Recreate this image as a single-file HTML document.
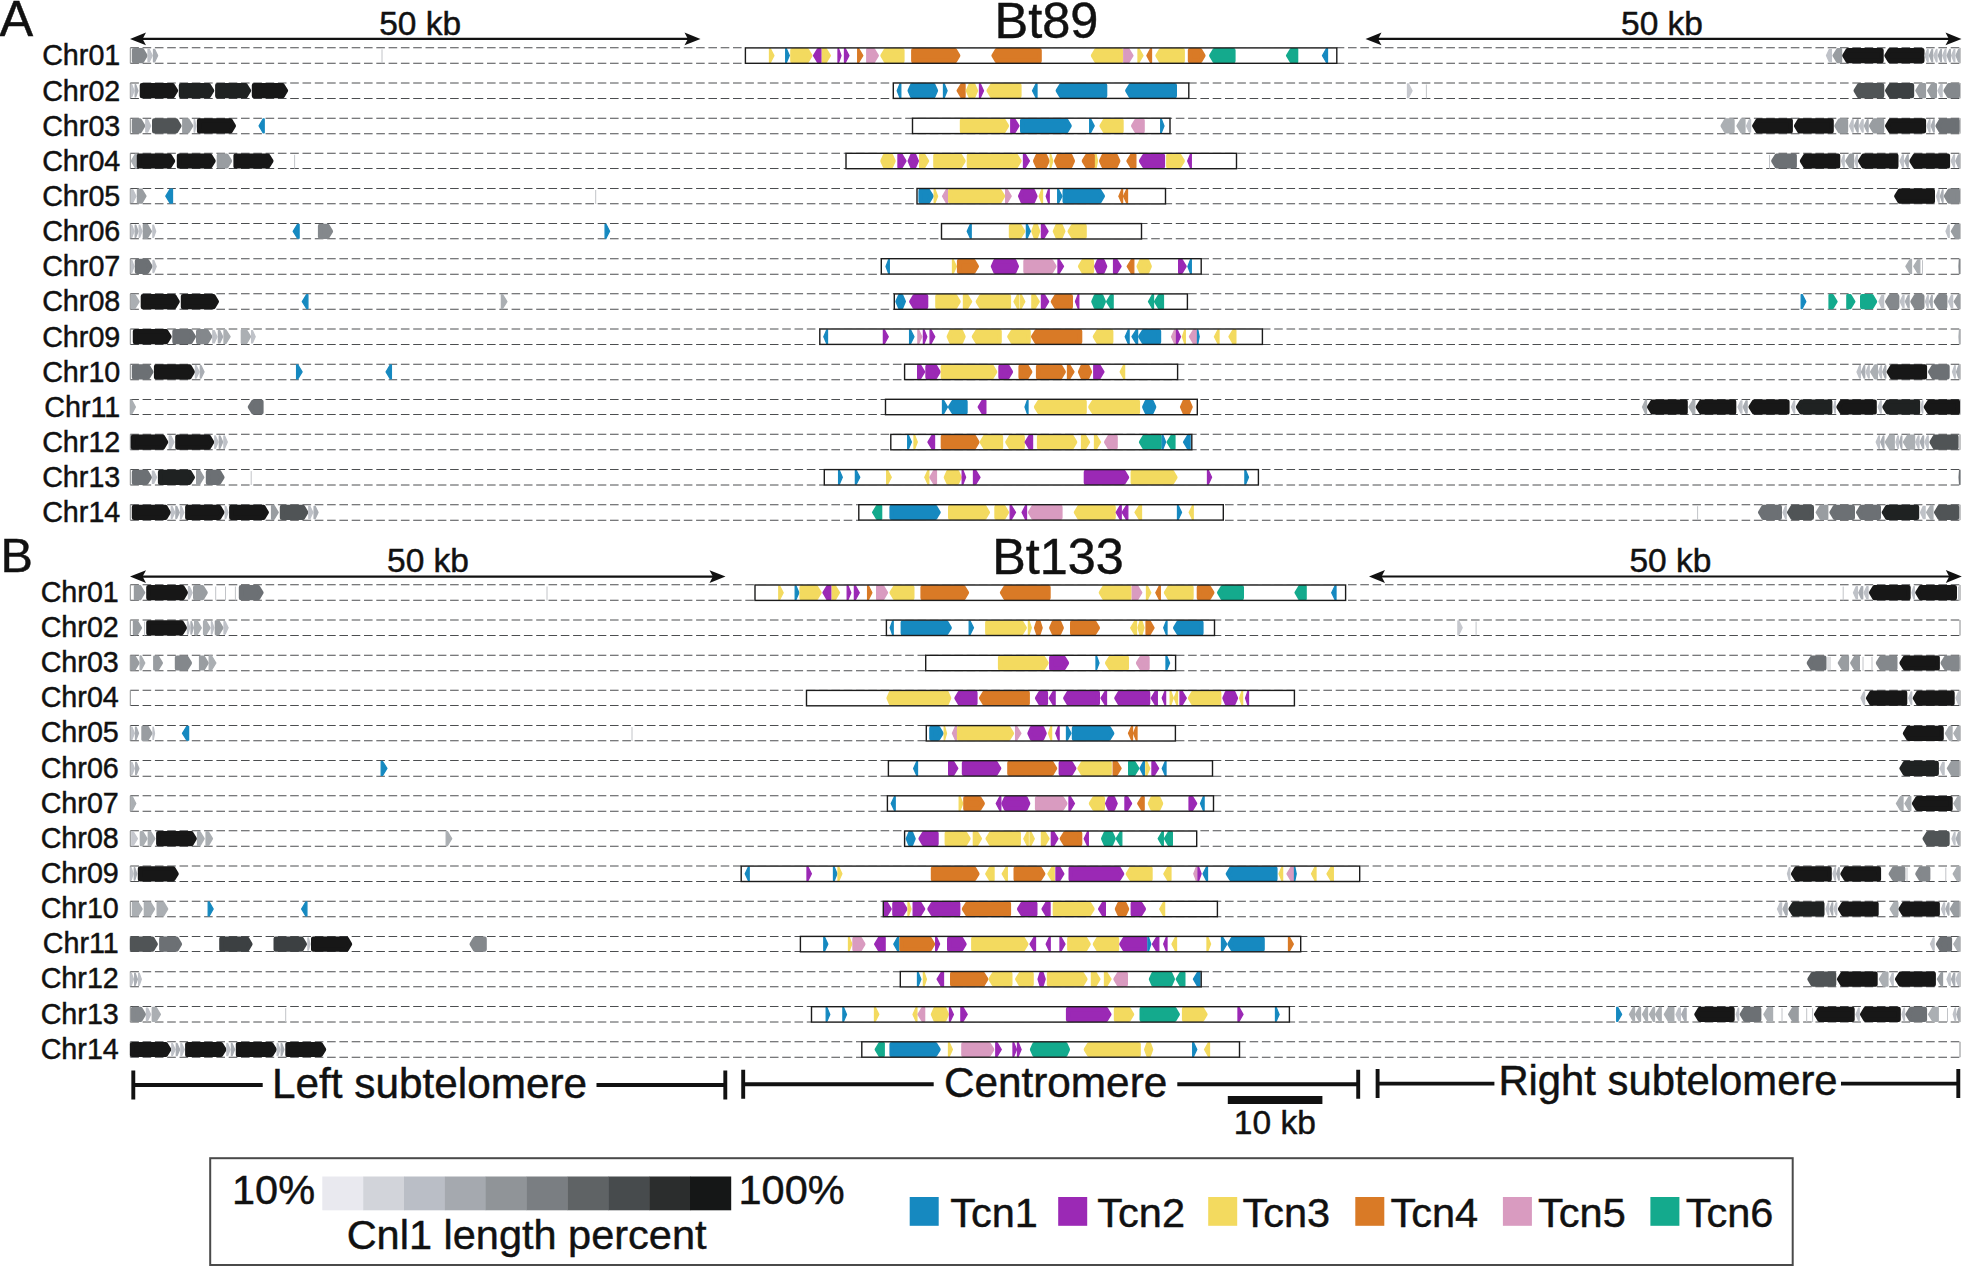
<!DOCTYPE html>
<html><head><meta charset="utf-8"><title>Bt89 / Bt133 centromeres</title>
<style>
html,body{margin:0;padding:0;background:#fff}
body{width:1962px;height:1267px;overflow:hidden}
svg{display:block}
text{font-family:"Liberation Sans",Arial,Helvetica,sans-serif;fill:#111;stroke:#111;stroke-width:0.45px}
.chr{font-size:28.7px}
path.d{stroke:#4c4e50;stroke-width:1;stroke-dasharray:8.6 3.7;fill:none}
polygon{stroke-width:1.3;stroke-linejoin:round}
polygon.m{stroke-width:2.6}
polygon.b{stroke-width:4.4}
</style></head><body>
<svg width="1962" height="1267" viewBox="0 0 1962 1267">
<rect width="1962" height="1267" fill="#fff"/>
<path class="d" d="M130.3 47.75H1960M130.3 63.25H1960"/>
<path d="M130.3 47.9V63.3M1960 47.9V63.3" stroke="#8a8c8e" stroke-width="1" fill="none"/>
<polygon class="b" fill="#84888c" stroke="#84888c" points="134,50.2 142.1,50.2 145.4,55.6 142.1,61 134,61"/><polygon fill="#bfc2c8" stroke="#bfc2c8" points="148,49.5 149.3,49.5 152.2,55.6 149.3,61.8 148,61.8"/><polygon fill="#a9adb3" stroke="#a9adb3" points="153.5,49.5 154.7,49.5 157.6,55.6 154.7,61.8 153.5,61.8"/><line x1="382" x2="382" y1="49.4" y2="63.3" stroke="#c2c4c8" stroke-width="1"/>
<polygon fill="#bfc2c8" stroke="#bfc2c8" points="1831.4,49.5 1829.3,49.5 1826.5,55.6 1829.3,61.8 1831.4,61.8"/><polygon class="m" fill="#999da1" stroke="#999da1" points="1840.9,49.3 1837.5,49.3 1833.7,55.6 1837.5,61.9 1840.9,61.9"/><polygon class="b" fill="#171717" stroke="#171717" points="1881.5,50.2 1847.7,50.2 1844.4,55.6 1847.7,61 1881.5,61"/><polygon class="b" fill="#171717" stroke="#171717" points="1922.3,50.2 1889.8,50.2 1886.5,55.6 1889.8,61 1922.3,61"/><polygon fill="#bfc2c8" stroke="#bfc2c8" points="1928.1,49.5 1927.5,49.5 1925,55.6 1927.5,61.8 1928.1,61.8"/><polygon fill="#a9adb3" stroke="#a9adb3" points="1932.6,49.5 1931.9,49.5 1929.4,55.6 1931.9,61.8 1932.6,61.8"/><polygon fill="#bfc2c8" stroke="#bfc2c8" points="1937,49.5 1936.4,49.5 1933.8,55.6 1936.4,61.8 1937,61.8"/><polygon fill="#a9adb3" stroke="#a9adb3" points="1941.4,49.5 1940.8,49.5 1938.3,55.6 1940.8,61.8 1941.4,61.8"/><polygon fill="#bfc2c8" stroke="#bfc2c8" points="1945.9,49.5 1945.2,49.5 1942.7,55.6 1945.2,61.8 1945.9,61.8"/><polygon fill="#a9adb3" stroke="#a9adb3" points="1950.3,49.5 1949.7,49.5 1947.1,55.6 1949.7,61.8 1950.3,61.8"/><polygon fill="#bfc2c8" stroke="#bfc2c8" points="1954.8,49.5 1954.1,49.5 1951.6,55.6 1954.1,61.8 1954.8,61.8"/><polygon fill="#a9adb3" stroke="#a9adb3" points="1959.2,49.5 1958.6,49.5 1956,55.6 1958.6,61.8 1959.2,61.8"/>
<rect x="745.4" y="47.1" width="591.4" height="17" fill="#fff" stroke="none"/>
<polygon fill="#f3da5f" stroke="#f3da5f" points="769.5,48.7 770.4,48.7 773.9,55.6 770.4,62.5 769.5,62.5"/><polygon fill="#1689c0" stroke="#1689c0" points="785.7,48.7 786.4,48.7 789.3,55.6 786.4,62.5 785.7,62.5"/><polygon class="b" fill="#f3da5f" stroke="#f3da5f" points="792.4,50.2 807,50.2 810.3,55.6 807,61 792.4,61"/><polygon class="m" fill="#9b29b5" stroke="#9b29b5" points="820.4,49.3 818,49.3 814.2,55.6 818,61.9 820.4,61.9"/><polygon class="m" fill="#f3da5f" stroke="#f3da5f" points="823,49.3 825.9,49.3 829.7,55.6 825.9,61.9 823,61.9"/><polygon fill="#9b29b5" stroke="#9b29b5" points="838,48.7 838.6,48.7 841,55.6 838.6,62.5 838,62.5"/><polygon fill="#9b29b5" stroke="#9b29b5" points="844.5,48.7 845.4,48.7 848.9,55.6 845.4,62.5 844.5,62.5"/><polygon fill="#d97a26" stroke="#d97a26" points="857.7,48.7 858.7,48.7 862.8,55.6 858.7,62.5 857.7,62.5"/><polygon class="m" fill="#d99bc0" stroke="#d99bc0" points="867.4,49.3 873.9,49.3 877.7,55.6 873.9,61.9 867.4,61.9"/><polygon class="b" fill="#f3da5f" stroke="#f3da5f" points="902.4,50.2 885.8,50.2 882.5,55.6 885.8,61 902.4,61"/><polygon class="b" fill="#d97a26" stroke="#d97a26" points="913.3,50.2 954.9,50.2 958.2,55.6 954.9,61 913.3,61"/><polygon class="b" fill="#d97a26" stroke="#d97a26" points="1039.6,50.2 996.9,50.2 993.6,55.6 996.9,61 1039.6,61"/><polygon class="b" fill="#f3da5f" stroke="#f3da5f" points="1120.9,50.2 1096.3,50.2 1093,55.6 1096.3,61 1120.9,61"/><polygon class="m" fill="#d99bc0" stroke="#d99bc0" points="1124.4,49.3 1128.5,49.3 1132.3,55.6 1128.5,61.9 1124.4,61.9"/><polygon fill="#f3da5f" stroke="#f3da5f" points="1138,48.7 1139,48.7 1143,55.6 1139,62.5 1138,62.5"/><polygon fill="#d97a26" stroke="#d97a26" points="1151.5,48.7 1150.5,48.7 1146.9,55.6 1150.5,62.5 1151.5,62.5"/><polygon class="b" fill="#f3da5f" stroke="#f3da5f" points="1182.7,50.2 1160.8,50.2 1157.5,55.6 1160.8,61 1182.7,61"/><polygon class="b" fill="#d97a26" stroke="#d97a26" points="1190,50.2 1200.1,50.2 1203.4,55.6 1200.1,61 1190,61"/><polygon class="b" fill="#14aa8d" stroke="#14aa8d" points="1233.4,50.2 1214.6,50.2 1211.3,55.6 1214.6,61 1233.4,61"/><polygon class="m" fill="#14aa8d" stroke="#14aa8d" points="1297,49.3 1291,49.3 1287.2,55.6 1291,61.9 1297,61.9"/><polygon fill="#1689c0" stroke="#1689c0" points="1327.5,48.7 1326.5,48.7 1322.5,55.6 1326.5,62.5 1327.5,62.5"/>
<rect x="745.4" y="47.9" width="591.4" height="15.4" fill="none" stroke="#1c1c1c" stroke-width="1.4"/>
<text class="chr" x="120.3" y="65.4" text-anchor="end">Chr01</text>
<path class="d" d="M130.3 83.00H1960M130.3 98.50H1960"/>
<path d="M130.3 83V98.4M1960 83V98.4" stroke="#8a8c8e" stroke-width="1" fill="none"/>
<polygon fill="#bfc2c8" stroke="#bfc2c8" points="131.2,84.6 131.8,84.6 134,90.7 131.8,96.9 131.2,96.9"/><polygon fill="#a9adb3" stroke="#a9adb3" points="135.2,84.6 135.7,84.6 137.9,90.7 135.7,96.9 135.2,96.9"/><polygon class="b" fill="#171717" stroke="#171717" points="141.9,85.3 172.7,85.3 176,90.7 172.7,96.1 141.9,96.1"/><polygon class="b" fill="#1f2222" stroke="#1f2222" points="181,85.3 208.8,85.3 212.1,90.7 208.8,96.1 181,96.1"/><polygon class="b" fill="#1f2222" stroke="#1f2222" points="217.3,85.3 245.7,85.3 249,90.7 245.7,96.1 217.3,96.1"/><polygon class="b" fill="#171717" stroke="#171717" points="254,85.3 282.6,85.3 285.9,90.7 282.6,96.1 254,96.1"/>
<polygon fill="#c6c8ce" stroke="#c6c8ce" points="1407.5,83.8 1408.4,83.8 1412.1,90.7 1408.4,97.7 1407.5,97.7"/><line x1="1426.4" x2="1426.4" y1="84.5" y2="98.4" stroke="#c2c4c8" stroke-width="1"/><polygon class="b" fill="#505456" stroke="#505456" points="1882.1,85.3 1859,85.3 1855.7,90.7 1859,96.1 1882.1,96.1"/><polygon class="b" fill="#3c4042" stroke="#3c4042" points="1912,85.3 1890.5,85.3 1887.2,90.7 1890.5,96.1 1912,96.1"/><polygon class="m" fill="#999da1" stroke="#999da1" points="1924.8,84.4 1920.3,84.4 1916.5,90.7 1920.3,97 1924.8,97"/><polygon class="m" fill="#999da1" stroke="#999da1" points="1935.7,84.4 1932.1,84.4 1928.3,90.7 1932.1,97 1935.7,97"/><polygon fill="#bfc2c8" stroke="#bfc2c8" points="1942.1,84.6 1940.8,84.6 1938,90.7 1940.8,96.9 1942.1,96.9"/><polygon class="b" fill="#84888c" stroke="#84888c" points="1957.8,85.3 1948.9,85.3 1945.6,90.7 1948.9,96.1 1957.8,96.1"/>
<rect x="893.3" y="82.2" width="295.5" height="17" fill="#fff" stroke="none"/>
<polygon fill="#1689c0" stroke="#1689c0" points="900.8,83.8 900,83.8 897.2,90.7 900,97.7 900.8,97.7"/><polygon class="b" fill="#1689c0" stroke="#1689c0" points="909.7,90.7 912.1,85.3 933.5,85.3 935.9,90.7 933.5,96.1 912.1,96.1"/><polygon fill="#1689c0" stroke="#1689c0" points="943.5,83.8 944.2,83.8 947.1,90.7 944.2,97.7 943.5,97.7"/><polygon class="m" fill="#d97a26" stroke="#d97a26" points="964.4,84.4 961.6,84.4 957.8,90.7 961.6,97 964.4,97"/><polygon class="m" fill="#f3da5f" stroke="#f3da5f" points="967,90.7 969.7,84.4 974.2,84.4 976.9,90.7 974.2,97 969.7,97"/><polygon fill="#9b29b5" stroke="#9b29b5" points="979.5,83.8 980.3,83.8 983.5,90.7 980.3,97.7 979.5,97.7"/><polygon class="b" fill="#f3da5f" stroke="#f3da5f" points="1019.4,85.3 992,85.3 988.7,90.7 992,96.1 1019.4,96.1"/><polygon fill="#1689c0" stroke="#1689c0" points="1037,83.8 1036.1,83.8 1032.5,90.7 1036.1,97.7 1037,97.7"/><polygon class="b" fill="#1689c0" stroke="#1689c0" points="1105.1,85.3 1061.1,85.3 1057.8,90.7 1061.1,96.1 1105.1,96.1"/><polygon class="b" fill="#1689c0" stroke="#1689c0" points="1174.8,85.3 1130.6,85.3 1127.3,90.7 1130.6,96.1 1174.8,96.1"/>
<rect x="893.3" y="83" width="295.5" height="15.4" fill="none" stroke="#1c1c1c" stroke-width="1.4"/>
<text class="chr" x="120.3" y="100.5" text-anchor="end">Chr02</text>
<path class="d" d="M130.3 118.25H1960M130.3 133.75H1960"/>
<path d="M130.3 118.2V133.6M1960 118.2V133.6" stroke="#8a8c8e" stroke-width="1" fill="none"/>
<polygon class="b" fill="#84888c" stroke="#84888c" points="134,120.5 139.8,120.5 143.1,125.9 139.8,131.3 134,131.3"/><polygon fill="#bfc2c8" stroke="#bfc2c8" points="145.8,119.7 147.7,119.7 150.6,125.9 147.7,132 145.8,132"/><polygon class="b" fill="#505456" stroke="#505456" points="154.2,120.5 176.1,120.5 179.4,125.9 176.1,131.3 154.2,131.3"/><polygon class="m" fill="#999da1" stroke="#999da1" points="183.4,119.6 188.3,119.6 192.1,125.9 188.3,132.2 183.4,132.2"/><polygon fill="#bfc2c8" stroke="#bfc2c8" points="194.2,119.7 194.6,119.7 195.9,125.9 194.6,132 194.2,132"/><polygon class="b" fill="#171717" stroke="#171717" points="199.1,120.5 230.5,120.5 233.8,125.9 230.5,131.3 199.1,131.3"/><polygon fill="#1689c0" stroke="#1689c0" points="264.2,118.9 263.2,118.9 259.1,125.9 263.2,132.8 264.2,132.8"/>
<polygon class="b" fill="#abafb3" stroke="#abafb3" points="1732.5,120.5 1726,120.5 1722.7,125.9 1726,131.3 1732.5,131.3"/><polygon class="m" fill="#abafb3" stroke="#abafb3" points="1744.3,119.6 1741.4,119.6 1737.6,125.9 1741.4,132.2 1744.3,132.2"/><polygon fill="#bfc2c8" stroke="#bfc2c8" points="1750.6,119.7 1749.3,119.7 1746.5,125.9 1749.3,132 1750.6,132"/><polygon class="b" fill="#171717" stroke="#171717" points="1790.7,120.5 1757.6,120.5 1754.3,125.9 1757.6,131.3 1790.7,131.3"/><polygon class="b" fill="#171717" stroke="#171717" points="1831.6,120.5 1799.4,120.5 1796.1,125.9 1799.4,131.3 1831.6,131.3"/><polygon class="b" fill="#999da1" stroke="#999da1" points="1846,120.5 1839.8,120.5 1836.5,125.9 1839.8,131.3 1846,131.3"/><polygon fill="#bfc2c8" stroke="#bfc2c8" points="1853.1,119.7 1852.3,119.7 1849.5,125.9 1852.3,132 1853.1,132"/><polygon fill="#a9adb3" stroke="#a9adb3" points="1858.1,119.7 1857.3,119.7 1854.4,125.9 1857.3,132 1858.1,132"/><polygon fill="#bfc2c8" stroke="#bfc2c8" points="1863.1,119.7 1862.3,119.7 1859.4,125.9 1862.3,132 1863.1,132"/><polygon fill="#a9adb3" stroke="#a9adb3" points="1868.1,119.7 1867.3,119.7 1864.4,125.9 1867.3,132 1868.1,132"/><polygon class="b" fill="#999da1" stroke="#999da1" points="1882.1,120.5 1874.4,120.5 1871.1,125.9 1874.4,131.3 1882.1,131.3"/><polygon class="b" fill="#171717" stroke="#171717" points="1923.9,120.5 1890.5,120.5 1887.2,125.9 1890.5,131.3 1923.9,131.3"/><polygon fill="#bfc2c8" stroke="#bfc2c8" points="1930,119.7 1929.4,119.7 1927,125.9 1929.4,132 1930,132"/><polygon fill="#a9adb3" stroke="#a9adb3" points="1934.2,119.7 1933.6,119.7 1931.2,125.9 1933.6,132 1934.2,132"/><polygon class="b" fill="#6c7074" stroke="#6c7074" points="1957.4,120.5 1940.9,120.5 1937.6,125.9 1940.9,131.3 1957.4,131.3"/>
<rect x="912.5" y="117.4" width="257.5" height="17" fill="#fff" stroke="none"/>
<polygon class="b" fill="#f3da5f" stroke="#f3da5f" points="962,120.5 1003.6,120.5 1006.9,125.9 1003.6,131.3 962,131.3"/><polygon class="m" fill="#9b29b5" stroke="#9b29b5" points="1011.4,119.6 1014.5,119.6 1018.3,125.9 1014.5,132.2 1011.4,132.2"/><polygon class="b" fill="#1689c0" stroke="#1689c0" points="1022.2,120.5 1066.3,120.5 1069.6,125.9 1066.3,131.3 1022.2,131.3"/><polygon fill="#1689c0" stroke="#1689c0" points="1089.7,118.9 1090.6,118.9 1094.2,125.9 1090.6,132.8 1089.7,132.8"/><polygon class="b" fill="#f3da5f" stroke="#f3da5f" points="1121.5,120.5 1104.9,120.5 1101.6,125.9 1104.9,131.3 1121.5,131.3"/><polygon class="b" fill="#d99bc0" stroke="#d99bc0" points="1142.6,120.5 1136.5,120.5 1133.2,125.9 1136.5,131.3 1142.6,131.3"/><polygon fill="#1689c0" stroke="#1689c0" points="1160.7,118.9 1161.3,118.9 1164,125.9 1161.3,132.8 1160.7,132.8"/>
<rect x="912.5" y="118.2" width="257.5" height="15.4" fill="none" stroke="#1c1c1c" stroke-width="1.4"/>
<text class="chr" x="120.3" y="135.7" text-anchor="end">Chr03</text>
<path class="d" d="M130.3 153.25H1960M130.3 168.50H1960"/>
<path d="M130.3 153.3V168.7M1960 153.3V168.7" stroke="#8a8c8e" stroke-width="1" fill="none"/>
<polygon fill="#abafb3" stroke="#abafb3" points="136.4,154.1 135.4,154.1 131.3,161 135.4,168 136.4,168"/><polygon class="b" fill="#171717" stroke="#171717" points="139,155.6 169.7,155.6 173,161 169.7,166.4 139,166.4"/><polygon class="b" fill="#171717" stroke="#171717" points="179,155.6 210.2,155.6 213.5,161 210.2,166.4 179,166.4"/><polygon class="b" fill="#999da1" stroke="#999da1" points="218.9,155.6 226.6,155.6 229.9,161 226.6,166.4 218.9,166.4"/><polygon class="b" fill="#171717" stroke="#171717" points="235.6,155.6 268,155.6 271.3,161 268,166.4 235.6,166.4"/><line x1="294.6" x2="294.6" y1="154.8" y2="168.7" stroke="#c2c4c8" stroke-width="1"/>
<line x1="1769.5" x2="1769.5" y1="154.8" y2="168.7" stroke="#c2c4c8" stroke-width="1"/><polygon class="b" fill="#6c7074" stroke="#6c7074" points="1794.7,155.6 1776.7,155.6 1773.4,161 1776.7,166.4 1794.7,166.4"/><polygon class="b" fill="#171717" stroke="#171717" points="1838.1,155.6 1805.3,155.6 1802,161 1805.3,166.4 1838.1,166.4"/><polygon fill="#bfc2c8" stroke="#bfc2c8" points="1844.2,154.9 1843.7,154.9 1841.5,161 1843.7,167.2 1844.2,167.2"/><polygon class="m" fill="#999da1" stroke="#999da1" points="1852.8,154.7 1850.3,154.7 1846.5,161 1850.3,167.3 1852.8,167.3"/><polygon fill="#bfc2c8" stroke="#bfc2c8" points="1857.3,154.9 1856.8,154.9 1854.8,161 1856.8,167.2 1857.3,167.2"/><polygon class="b" fill="#171717" stroke="#171717" points="1896.3,155.6 1863.5,155.6 1860.2,161 1863.5,166.4 1896.3,166.4"/><polygon fill="#bfc2c8" stroke="#bfc2c8" points="1903.4,154.9 1902.7,154.9 1900,161 1902.7,167.2 1903.4,167.2"/><polygon fill="#a9adb3" stroke="#a9adb3" points="1908.2,154.9 1907.5,154.9 1904.7,161 1907.5,167.2 1908.2,167.2"/><polygon class="b" fill="#171717" stroke="#171717" points="1947.9,155.6 1914.8,155.6 1911.5,161 1914.8,166.4 1947.9,166.4"/><polygon fill="#bfc2c8" stroke="#bfc2c8" points="1954.5,154.9 1953.9,154.9 1951.2,161 1953.9,167.2 1954.5,167.2"/><polygon fill="#a9adb3" stroke="#a9adb3" points="1959.2,154.9 1958.5,154.9 1955.8,161 1958.5,167.2 1959.2,167.2"/>
<rect x="846" y="152.5" width="390.5" height="17" fill="#fff" stroke="none"/>
<polygon class="b" fill="#f3da5f" stroke="#f3da5f" points="882.5,161 884.9,155.6 891.1,155.6 893.5,161 891.1,166.4 884.9,166.4"/><polygon class="m" fill="#9b29b5" stroke="#9b29b5" points="898.6,154.7 901.5,154.7 905.3,161 901.5,167.3 898.6,167.3"/><polygon class="m" fill="#9b29b5" stroke="#9b29b5" points="908.8,161 911.5,154.7 915,154.7 917.7,161 915,167.3 911.5,167.3"/><polygon class="m" fill="#f3da5f" stroke="#f3da5f" points="920.3,154.7 924.1,154.7 927.9,161 924.1,167.3 920.3,167.3"/><polygon class="b" fill="#f3da5f" stroke="#f3da5f" points="935.4,155.6 960.2,155.6 963.5,161 960.2,166.4 935.4,166.4"/><polygon class="b" fill="#f3da5f" stroke="#f3da5f" points="968.9,155.6 1016.1,155.6 1019.4,161 1016.1,166.4 968.9,166.4"/><polygon fill="#9b29b5" stroke="#9b29b5" points="1023.5,154.1 1025.2,154.1 1029.5,161 1025.2,168 1023.5,168"/><polygon class="b" fill="#d97a26" stroke="#d97a26" points="1035.2,161 1037.6,155.6 1045.1,155.6 1047.5,161 1045.1,166.4 1037.6,166.4"/><polygon fill="#f3da5f" stroke="#f3da5f" points="1050.2,154.1 1050.7,154.1 1052.8,161 1050.7,168 1050.2,168"/><polygon class="b" fill="#d97a26" stroke="#d97a26" points="1056.2,161 1058.6,155.6 1070.4,155.6 1072.8,161 1070.4,166.4 1058.6,166.4"/><polygon class="b" fill="#d97a26" stroke="#d97a26" points="1092.9,155.6 1087.2,155.6 1083.9,161 1087.2,166.4 1092.9,166.4"/><polygon fill="#f3da5f" stroke="#f3da5f" points="1095.5,154.1 1096,154.1 1097.5,161 1096,168 1095.5,168"/><polygon class="b" fill="#d97a26" stroke="#d97a26" points="1101.2,161 1103.6,155.6 1115.8,155.6 1118.2,161 1115.8,166.4 1103.6,166.4"/><polygon class="m" fill="#d97a26" stroke="#d97a26" points="1135.2,154.7 1131.4,154.7 1127.6,161 1131.4,167.3 1135.2,167.3"/><polygon class="b" fill="#9b29b5" stroke="#9b29b5" points="1162.9,155.6 1144.4,155.6 1141.1,161 1144.4,166.4 1162.9,166.4"/><polygon class="b" fill="#f3da5f" stroke="#f3da5f" points="1168.3,155.6 1179.4,155.6 1182.7,161 1179.4,166.4 1168.3,166.4"/><polygon fill="#9b29b5" stroke="#9b29b5" points="1191.3,154.1 1190.6,154.1 1187.7,161 1190.6,168 1191.3,168"/>
<rect x="846" y="153.3" width="390.5" height="15.4" fill="none" stroke="#1c1c1c" stroke-width="1.4"/>
<text class="chr" x="120.3" y="170.8" text-anchor="end">Chr04</text>
<path class="d" d="M130.3 188.50H1960M130.3 203.75H1960"/>
<path d="M130.3 188.5V203.9M1960 188.5V203.9" stroke="#8a8c8e" stroke-width="1" fill="none"/>
<polygon fill="#bfc2c8" stroke="#bfc2c8" points="131.2,190 133,190 135.9,196.2 133,202.3 131.2,202.3"/><polygon class="m" fill="#999da1" stroke="#999da1" points="138.1,189.9 141.5,189.9 145.3,196.2 141.5,202.5 138.1,202.5"/><polygon fill="#1689c0" stroke="#1689c0" points="172.5,189.2 170.1,189.2 165.8,196.2 170.1,203.1 172.5,203.1"/><line x1="595.7" x2="595.7" y1="190" y2="203.9" stroke="#c2c4c8" stroke-width="1"/>
<polygon class="b" fill="#171717" stroke="#171717" points="1932.8,190.8 1899.6,190.8 1896.3,196.2 1899.6,201.6 1932.8,201.6"/><polygon fill="#bfc2c8" stroke="#bfc2c8" points="1939.1,190 1938.6,190 1936.5,196.2 1938.6,202.3 1939.1,202.3"/><polygon fill="#a9adb3" stroke="#a9adb3" points="1943,190 1942.5,190 1940.4,196.2 1942.5,202.3 1943,202.3"/><polygon class="b" fill="#84888c" stroke="#84888c" points="1957.8,190.8 1949.3,190.8 1946,196.2 1949.3,201.6 1957.8,201.6"/>
<rect x="917" y="187.7" width="248.5" height="17" fill="#fff" stroke="none"/>
<polygon class="b" fill="#1689c0" stroke="#1689c0" points="920.6,190.8 928.3,190.8 931.6,196.2 928.3,201.6 920.6,201.6"/><polygon fill="#f3da5f" stroke="#f3da5f" points="934.2,189.2 934.9,189.2 937.6,196.2 934.9,203.1 934.2,203.1"/><polygon fill="#d99bc0" stroke="#d99bc0" points="947.5,189.2 946.5,189.2 942.5,196.2 946.5,203.1 947.5,203.1"/><polygon class="b" fill="#f3da5f" stroke="#f3da5f" points="950.2,190.8 999.7,190.8 1003,196.2 999.7,201.6 950.2,201.6"/><polygon fill="#d99bc0" stroke="#d99bc0" points="1005.7,189.2 1007,189.2 1011.2,196.2 1007,203.1 1005.7,203.1"/><polygon class="b" fill="#9b29b5" stroke="#9b29b5" points="1020.2,196.2 1022.6,190.8 1033,190.8 1035.4,196.2 1033,201.6 1022.6,201.6"/><polygon fill="#f3da5f" stroke="#f3da5f" points="1042.5,189.2 1041.9,189.2 1039.2,196.2 1041.9,203.1 1042.5,203.1"/><polygon fill="#9b29b5" stroke="#9b29b5" points="1049.2,189.2 1048.6,189.2 1046.2,196.2 1048.6,203.1 1049.2,203.1"/><polygon fill="#1689c0" stroke="#1689c0" points="1057.7,189.2 1058.5,189.2 1062,196.2 1058.5,203.1 1057.7,203.1"/><polygon class="b" fill="#1689c0" stroke="#1689c0" points="1064.7,190.8 1099.5,190.8 1102.8,196.2 1099.5,201.6 1064.7,201.6"/><polygon fill="#d97a26" stroke="#d97a26" points="1122.6,189.2 1121.9,189.2 1118.9,196.2 1121.9,203.1 1122.6,203.1"/><polygon fill="#d97a26" stroke="#d97a26" points="1127.5,189.2 1126.8,189.2 1123.5,196.2 1126.8,203.1 1127.5,203.1"/>
<rect x="917" y="188.5" width="248.5" height="15.4" fill="none" stroke="#1c1c1c" stroke-width="1.4"/>
<text class="chr" x="120.3" y="206" text-anchor="end">Chr05</text>
<path class="d" d="M130.3 223.50H1960M130.3 238.75H1960"/>
<path d="M130.3 223.6V239M1960 223.6V239" stroke="#8a8c8e" stroke-width="1" fill="none"/>
<polygon fill="#bfc2c8" stroke="#bfc2c8" points="131.2,225.1 131.8,225.1 134,231.3 131.8,237.4 131.2,237.4"/><polygon fill="#a9adb3" stroke="#a9adb3" points="135.2,225.1 135.8,225.1 138,231.3 135.8,237.4 135.2,237.4"/><polygon fill="#bfc2c8" stroke="#bfc2c8" points="139.2,225.1 139.7,225.1 141.9,231.3 139.7,237.4 139.2,237.4"/><polygon class="m" fill="#999da1" stroke="#999da1" points="144,225 146.9,225 150.7,231.3 146.9,237.6 144,237.6"/><polygon fill="#bfc2c8" stroke="#bfc2c8" points="152.9,225.1 153.5,225.1 155.7,231.3 153.5,237.4 152.9,237.4"/><polygon fill="#1689c0" stroke="#1689c0" points="299.1,224.3 297.5,224.3 293.2,231.3 297.5,238.2 299.1,238.2"/><polygon class="b" fill="#84888c" stroke="#84888c" points="320.1,225.9 327.6,225.9 330.9,231.3 327.6,236.7 320.1,236.7"/><polygon fill="#1689c0" stroke="#1689c0" points="605.1,224.3 606,224.3 609.6,231.3 606,238.2 605.1,238.2"/>
<polygon fill="#bfc2c8" stroke="#bfc2c8" points="1949.2,225.1 1948.5,225.1 1946,231.3 1948.5,237.4 1949.2,237.4"/><polygon class="m" fill="#999da1" stroke="#999da1" points="1958.7,225 1955.8,225 1952,231.3 1955.8,237.6 1958.7,237.6"/>
<rect x="941.5" y="222.8" width="200" height="17" fill="#fff" stroke="none"/>
<polygon fill="#1689c0" stroke="#1689c0" points="971.2,224.3 970.4,224.3 967.2,231.3 970.4,238.2 971.2,238.2"/><polygon class="b" fill="#f3da5f" stroke="#f3da5f" points="1011,225.9 1019.8,225.9 1023.1,231.3 1019.8,236.7 1011,236.7"/><polygon fill="#1689c0" stroke="#1689c0" points="1026.4,224.3 1027.2,224.3 1030.3,231.3 1027.2,238.2 1026.4,238.2"/><polygon class="m" fill="#f3da5f" stroke="#f3da5f" points="1032.5,231.3 1034.7,225 1036.8,225 1039,231.3 1036.8,237.6 1034.7,237.6"/><polygon class="m" fill="#9b29b5" stroke="#9b29b5" points="1042.1,225 1043.6,225 1047.4,231.3 1043.6,237.6 1042.1,237.6"/><polygon class="m" fill="#f3da5f" stroke="#f3da5f" points="1054,231.3 1056.7,225 1061.5,225 1064.2,231.3 1061.5,237.6 1056.7,237.6"/><polygon class="b" fill="#f3da5f" stroke="#f3da5f" points="1084.6,225.9 1073,225.9 1069.7,231.3 1073,236.7 1084.6,236.7"/>
<rect x="941.5" y="223.6" width="200" height="15.4" fill="none" stroke="#1c1c1c" stroke-width="1.4"/>
<text class="chr" x="120.3" y="241.1" text-anchor="end">Chr06</text>
<path class="d" d="M130.3 258.75H1960M130.3 274.25H1960"/>
<path d="M130.3 258.7V274.1M1960 258.7V274.1" stroke="#8a8c8e" stroke-width="1" fill="none"/>
<polygon fill="#bfc2c8" stroke="#bfc2c8" points="131.2,260.3 131.8,260.3 134,266.4 131.8,272.6 131.2,272.6"/><polygon class="b" fill="#6c7074" stroke="#6c7074" points="137,261 147.1,261 150.4,266.4 147.1,271.8 137,271.8"/><polygon fill="#bfc2c8" stroke="#bfc2c8" points="153,260.3 153.7,260.3 156.2,266.4 153.7,272.6 153,272.6"/>
<polygon fill="#abafb3" stroke="#abafb3" points="1911.5,259.5 1910.1,259.5 1905.9,266.4 1910.1,273.4 1911.5,273.4"/><polygon fill="#abafb3" stroke="#abafb3" points="1919.8,259.5 1918,259.5 1913.8,266.4 1918,273.4 1919.8,273.4"/><line x1="1922.5" x2="1922.5" y1="260.2" y2="274.1" stroke="#c2c4c8" stroke-width="1"/><polygon fill="#84888c" stroke="#84888c" points="1959.5,259.5 1959.4,259.5 1959,266.4 1959.4,273.4 1959.5,273.4"/>
<rect x="881.3" y="257.9" width="319.9" height="17" fill="#fff" stroke="none"/>
<polygon fill="#1689c0" stroke="#1689c0" points="889.3,259.5 888.7,259.5 886,266.4 888.7,273.4 889.3,273.4"/><polygon fill="#f3da5f" stroke="#f3da5f" points="952.5,259.5 953.2,259.5 956.4,266.4 953.2,273.4 952.5,273.4"/><polygon class="b" fill="#d97a26" stroke="#d97a26" points="959.1,261 973.5,261 976.8,266.4 973.5,271.8 959.1,271.8"/><polygon class="b" fill="#9b29b5" stroke="#9b29b5" points="993,266.4 995.4,261 1014.4,261 1016.8,266.4 1014.4,271.8 995.4,271.8"/><polygon class="b" fill="#d99bc0" stroke="#d99bc0" points="1025.5,261 1051.1,261 1054.4,266.4 1051.1,271.8 1025.5,271.8"/><polygon fill="#9b29b5" stroke="#9b29b5" points="1058,259.5 1059.2,259.5 1063.5,266.4 1059.2,273.4 1058,273.4"/><polygon class="b" fill="#f3da5f" stroke="#f3da5f" points="1091.9,261 1083.4,261 1080.1,266.4 1083.4,271.8 1091.9,271.8"/><polygon class="b" fill="#9b29b5" stroke="#9b29b5" points="1096.3,266.4 1098.7,261 1102.7,261 1105.1,266.4 1102.7,271.8 1098.7,271.8"/><polygon class="m" fill="#9b29b5" stroke="#9b29b5" points="1114.2,260.1 1116.6,260.1 1120.4,266.4 1116.6,272.7 1114.2,272.7"/><polygon fill="#d97a26" stroke="#d97a26" points="1133.8,259.5 1131.4,259.5 1127.2,266.4 1131.4,273.4 1133.8,273.4"/><polygon class="b" fill="#f3da5f" stroke="#f3da5f" points="1138.7,266.4 1141.1,261 1147.3,261 1149.7,266.4 1147.3,271.8 1141.1,271.8"/><polygon class="m" fill="#9b29b5" stroke="#9b29b5" points="1179.3,260.1 1181.7,260.1 1185.5,266.4 1181.7,272.7 1179.3,272.7"/><polygon fill="#1689c0" stroke="#1689c0" points="1191.3,259.5 1190.6,259.5 1187.9,266.4 1190.6,273.4 1191.3,273.4"/>
<rect x="881.3" y="258.7" width="319.9" height="15.4" fill="none" stroke="#1c1c1c" stroke-width="1.4"/>
<text class="chr" x="120.3" y="276.2" text-anchor="end">Chr07</text>
<path class="d" d="M130.3 293.75H1960M130.3 309.25H1960"/>
<path d="M130.3 293.9V309.3M1960 293.9V309.3" stroke="#8a8c8e" stroke-width="1" fill="none"/>
<polygon class="m" fill="#abafb3" stroke="#abafb3" points="132.1,295.3 134.6,295.3 138.4,301.6 134.6,307.9 132.1,307.9"/><polygon class="b" fill="#171717" stroke="#171717" points="142.9,296.2 174.3,296.2 177.6,301.6 174.3,307 142.9,307"/><polygon class="b" fill="#171717" stroke="#171717" points="183,296.2 213.5,296.2 216.8,301.6 213.5,307 183,307"/><polygon fill="#1689c0" stroke="#1689c0" points="307.9,294.6 306.6,294.6 302.3,301.6 306.6,308.5 307.9,308.5"/><polygon fill="#abafb3" stroke="#abafb3" points="501.4,294.6 502.6,294.6 506.9,301.6 502.6,308.5 501.4,308.5"/>
<polygon fill="#1689c0" stroke="#1689c0" points="1801.2,294.6 1802.2,294.6 1805.8,301.6 1802.2,308.5 1801.2,308.5"/><polygon class="m" fill="#14aa8d" stroke="#14aa8d" points="1829.7,295.3 1832.6,295.3 1836.4,301.6 1832.6,307.9 1829.7,307.9"/><polygon class="m" fill="#14aa8d" stroke="#14aa8d" points="1847.5,295.3 1850.4,295.3 1854.2,301.6 1850.4,307.9 1847.5,307.9"/><polygon class="b" fill="#14aa8d" stroke="#14aa8d" points="1862.2,296.2 1871.7,296.2 1875,301.6 1871.7,307 1862.2,307"/><polygon fill="#bfc2c8" stroke="#bfc2c8" points="1883.6,295.4 1881.8,295.4 1879,301.6 1881.8,307.7 1883.6,307.7"/><polygon class="b" fill="#84888c" stroke="#84888c" points="1897.2,296.2 1890.5,296.2 1887.2,301.6 1890.5,307 1897.2,307"/><polygon fill="#bfc2c8" stroke="#bfc2c8" points="1904,295.4 1903.1,295.4 1900.2,301.6 1903.1,307.7 1904,307.7"/><polygon fill="#a9adb3" stroke="#a9adb3" points="1909.1,295.4 1908.2,295.4 1905.4,301.6 1908.2,307.7 1909.1,307.7"/><polygon class="b" fill="#84888c" stroke="#84888c" points="1922.3,296.2 1915.8,296.2 1912.5,301.6 1915.8,307 1922.3,307"/><polygon fill="#bfc2c8" stroke="#bfc2c8" points="1928.2,295.4 1927.7,295.4 1925.5,301.6 1927.7,307.7 1928.2,307.7"/><polygon fill="#a9adb3" stroke="#a9adb3" points="1932.2,295.4 1931.7,295.4 1929.5,301.6 1931.7,307.7 1932.2,307.7"/><polygon class="b" fill="#84888c" stroke="#84888c" points="1945.2,296.2 1939.1,296.2 1935.8,301.6 1939.1,307 1945.2,307"/><polygon fill="#bfc2c8" stroke="#bfc2c8" points="1952.6,295.4 1951.3,295.4 1948.5,301.6 1951.3,307.7 1952.6,307.7"/><polygon fill="#999da1" stroke="#999da1" points="1959.5,294.6 1958.4,294.6 1954.2,301.6 1958.4,308.5 1959.5,308.5"/>
<rect x="894.3" y="293.1" width="293.1" height="17" fill="#fff" stroke="none"/>
<polygon class="m" fill="#1689c0" stroke="#1689c0" points="896.6,301.6 899.3,295.3 902,295.3 904.7,301.6 902,307.9 899.3,307.9"/><polygon class="b" fill="#9b29b5" stroke="#9b29b5" points="926.1,296.2 914.6,296.2 911.3,301.6 914.6,307 926.1,307"/><polygon class="b" fill="#f3da5f" stroke="#f3da5f" points="937.4,296.2 955.3,296.2 958.6,301.6 955.3,307 937.4,307"/><polygon class="m" fill="#f3da5f" stroke="#f3da5f" points="964.1,295.3 967.2,295.3 971,301.6 967.2,307.9 964.1,307.9"/><polygon class="b" fill="#f3da5f" stroke="#f3da5f" points="1008.9,296.2 981.1,296.2 977.8,301.6 981.1,307 1008.9,307"/><polygon fill="#f3da5f" stroke="#f3da5f" points="1018.5,294.6 1017.6,294.6 1014,301.6 1017.6,308.5 1018.5,308.5"/><polygon fill="#f3da5f" stroke="#f3da5f" points="1020.2,294.6 1021.2,294.6 1024.8,301.6 1021.2,308.5 1020.2,308.5"/><polygon class="m" fill="#f3da5f" stroke="#f3da5f" points="1032.5,295.3 1034.8,295.3 1038.6,301.6 1034.8,307.9 1032.5,307.9"/><polygon class="m" fill="#9b29b5" stroke="#9b29b5" points="1042.1,295.3 1044.2,295.3 1048,301.6 1044.2,307.9 1042.1,307.9"/><polygon class="b" fill="#d97a26" stroke="#d97a26" points="1070.8,296.2 1056.2,296.2 1052.9,301.6 1056.2,307 1070.8,307"/><polygon fill="#9b29b5" stroke="#9b29b5" points="1078.8,294.6 1078.2,294.6 1075.5,301.6 1078.2,308.5 1078.8,308.5"/><polygon class="b" fill="#14aa8d" stroke="#14aa8d" points="1093.4,301.6 1095.8,296.2 1101.4,296.2 1103.8,301.6 1101.4,307 1095.8,307"/><polygon class="m" fill="#14aa8d" stroke="#14aa8d" points="1112.5,295.3 1111.1,295.3 1107.3,301.6 1111.1,307.9 1112.5,307.9"/><polygon fill="#14aa8d" stroke="#14aa8d" points="1153.5,294.6 1152.5,294.6 1148.5,301.6 1152.5,308.5 1153.5,308.5"/><polygon class="m" fill="#14aa8d" stroke="#14aa8d" points="1162.8,295.3 1159,295.3 1155.2,301.6 1159,307.9 1162.8,307.9"/>
<rect x="894.3" y="293.9" width="293.1" height="15.4" fill="none" stroke="#1c1c1c" stroke-width="1.4"/>
<text class="chr" x="120.3" y="311.4" text-anchor="end">Chr08</text>
<path class="d" d="M130.3 329.00H1960M130.3 344.50H1960"/>
<path d="M130.3 329V344.4M1960 329V344.4" stroke="#8a8c8e" stroke-width="1" fill="none"/>
<polygon class="b" fill="#171717" stroke="#171717" points="135,331.3 166.2,331.3 169.5,336.7 166.2,342.1 135,342.1"/><polygon class="b" fill="#6c7074" stroke="#6c7074" points="174.5,331.3 190.5,331.3 193.8,336.7 190.5,342.1 174.5,342.1"/><polygon class="b" fill="#84888c" stroke="#84888c" points="198.2,331.3 206.8,331.3 210.1,336.7 206.8,342.1 198.2,342.1"/><polygon fill="#bfc2c8" stroke="#bfc2c8" points="212.8,330.6 214.2,330.6 217,336.7 214.2,342.9 212.8,342.9"/><polygon fill="#a9adb3" stroke="#a9adb3" points="218.4,330.6 219.8,330.6 222.7,336.7 219.8,342.9 218.4,342.9"/><polygon fill="#abafb3" stroke="#abafb3" points="224,329.8 225.8,329.8 230.1,336.7 225.8,343.7 224,343.7"/><polygon class="m" fill="#abafb3" stroke="#abafb3" points="242,330.4 246.1,330.4 249.9,336.7 246.1,343 242,343"/><polygon fill="#bfc2c8" stroke="#bfc2c8" points="251.6,330.6 252.4,330.6 255.2,336.7 252.4,342.9 251.6,342.9"/>
<polygon fill="#abafb3" stroke="#abafb3" points="1959.6,329.8 1959.5,329.8 1959,336.7 1959.5,343.7 1959.6,343.7"/>
<rect x="819.8" y="328.2" width="442.6" height="17" fill="#fff" stroke="none"/>
<polygon fill="#1689c0" stroke="#1689c0" points="827.5,329.8 826.8,329.8 823.8,336.7 826.8,343.7 827.5,343.7"/><polygon fill="#9b29b5" stroke="#9b29b5" points="883.4,329.8 884.4,329.8 888.3,336.7 884.4,343.7 883.4,343.7"/><polygon fill="#1689c0" stroke="#1689c0" points="909.6,329.8 910.5,329.8 914,336.7 910.5,343.7 909.6,343.7"/><polygon fill="#d99bc0" stroke="#d99bc0" points="917.9,329.8 918.6,329.8 921.8,336.7 918.6,343.7 917.9,343.7"/><polygon fill="#9b29b5" stroke="#9b29b5" points="923.4,329.8 924,329.8 926.8,336.7 924,343.7 923.4,343.7"/><polygon fill="#9b29b5" stroke="#9b29b5" points="930.1,329.8 931,329.8 934.8,336.7 931,343.7 930.1,343.7"/><polygon class="b" fill="#f3da5f" stroke="#f3da5f" points="948.8,336.7 951.2,331.3 961.1,331.3 963.5,336.7 961.1,342.1 951.2,342.1"/><polygon class="b" fill="#f3da5f" stroke="#f3da5f" points="999.6,331.3 977.2,331.3 973.9,336.7 977.2,342.1 999.6,342.1"/><polygon class="b" fill="#f3da5f" stroke="#f3da5f" points="1028.6,331.3 1012.7,331.3 1009.4,336.7 1012.7,342.1 1028.6,342.1"/><polygon class="b" fill="#d97a26" stroke="#d97a26" points="1080.1,331.3 1036.5,331.3 1033.2,336.7 1036.5,342.1 1080.1,342.1"/><polygon class="b" fill="#f3da5f" stroke="#f3da5f" points="1111.2,331.3 1098.2,331.3 1094.9,336.7 1098.2,342.1 1111.2,342.1"/><polygon fill="#1689c0" stroke="#1689c0" points="1129.1,329.8 1128.3,329.8 1125.2,336.7 1128.3,343.7 1129.1,343.7"/><polygon fill="#1689c0" stroke="#1689c0" points="1137.6,329.8 1136.3,329.8 1132,336.7 1136.3,343.7 1137.6,343.7"/><polygon class="b" fill="#1689c0" stroke="#1689c0" points="1159,331.3 1143.6,331.3 1140.3,336.7 1143.6,342.1 1159,342.1"/><polygon fill="#d99bc0" stroke="#d99bc0" points="1175.5,329.8 1174.7,329.8 1171.5,336.7 1174.7,343.7 1175.5,343.7"/><polygon fill="#9b29b5" stroke="#9b29b5" points="1176.5,329.8 1177.2,329.8 1180.5,336.7 1177.2,343.7 1176.5,343.7"/><polygon fill="#f3da5f" stroke="#f3da5f" points="1185.3,329.8 1184.8,329.8 1182.4,336.7 1184.8,343.7 1185.3,343.7"/><polygon class="m" fill="#d99bc0" stroke="#d99bc0" points="1195.7,330.4 1193.9,330.4 1190.1,336.7 1193.9,343 1195.7,343"/><polygon fill="#1689c0" stroke="#1689c0" points="1197.5,329.8 1197.8,329.8 1199.2,336.7 1197.8,343.7 1197.5,343.7"/><polygon fill="#f3da5f" stroke="#f3da5f" points="1219,329.8 1218,329.8 1214.4,336.7 1218,343.7 1219,343.7"/><polygon class="m" fill="#f3da5f" stroke="#f3da5f" points="1235.2,330.4 1233.4,330.4 1229.6,336.7 1233.4,343 1235.2,343"/>
<rect x="819.8" y="329" width="442.6" height="15.4" fill="none" stroke="#1c1c1c" stroke-width="1.4"/>
<text class="chr" x="120.3" y="346.5" text-anchor="end">Chr09</text>
<path class="d" d="M130.3 364.25H1960M130.3 379.75H1960"/>
<path d="M130.3 364.2V379.6M1960 364.2V379.6" stroke="#8a8c8e" stroke-width="1" fill="none"/>
<polygon class="b" fill="#6c7074" stroke="#6c7074" points="134,366.5 148,366.5 151.3,371.9 148,377.3 134,377.3"/><polygon class="b" fill="#171717" stroke="#171717" points="156.1,366.5 189.5,366.5 192.8,371.9 189.5,377.3 156.1,377.3"/><polygon fill="#bfc2c8" stroke="#bfc2c8" points="195.4,365.7 196.2,365.7 199.1,371.9 196.2,378 195.4,378"/><polygon fill="#a9adb3" stroke="#a9adb3" points="200.3,365.7 201.1,365.7 204,371.9 201.1,378 200.3,378"/><polygon fill="#1689c0" stroke="#1689c0" points="296.6,364.9 297.8,364.9 302.1,371.9 297.8,378.8 296.6,378.8"/><polygon fill="#1689c0" stroke="#1689c0" points="391.4,364.9 390.3,364.9 386.1,371.9 390.3,378.8 391.4,378.8"/>
<polygon fill="#bfc2c8" stroke="#bfc2c8" points="1860.3,365.7 1859.6,365.7 1857,371.9 1859.6,378 1860.3,378"/><polygon fill="#a9adb3" stroke="#a9adb3" points="1864.7,365.7 1864.1,365.7 1861.5,371.9 1864.1,378 1864.7,378"/><polygon fill="#bfc2c8" stroke="#bfc2c8" points="1869.2,365.7 1868.6,365.7 1866,371.9 1868.6,378 1869.2,378"/><polygon class="m" fill="#abafb3" stroke="#abafb3" points="1876.7,365.6 1875.1,365.6 1871.3,371.9 1875.1,378.2 1876.7,378.2"/><polygon fill="#bfc2c8" stroke="#bfc2c8" points="1881.5,365.7 1880.9,365.7 1878.5,371.9 1880.9,378 1881.5,378"/><polygon fill="#a9adb3" stroke="#a9adb3" points="1885.8,365.7 1885.2,365.7 1882.8,371.9 1885.2,378 1885.8,378"/><polygon class="b" fill="#171717" stroke="#171717" points="1924.9,366.5 1892.1,366.5 1888.8,371.9 1892.1,377.3 1924.9,377.3"/><polygon class="b" fill="#6c7074" stroke="#6c7074" points="1947.5,366.5 1933.5,366.5 1930.2,371.9 1933.5,377.3 1947.5,377.3"/><polygon fill="#bfc2c8" stroke="#bfc2c8" points="1955.2,365.7 1954.7,365.7 1952.5,371.9 1954.7,378 1955.2,378"/><polygon fill="#a9adb3" stroke="#a9adb3" points="1959.2,365.7 1958.7,365.7 1956.5,371.9 1958.7,378 1959.2,378"/>
<rect x="904.6" y="363.4" width="273" height="17" fill="#fff" stroke="none"/>
<polygon class="m" fill="#9b29b5" stroke="#9b29b5" points="918.3,365.6 920.2,365.6 924,371.9 920.2,378.2 918.3,378.2"/><polygon class="b" fill="#9b29b5" stroke="#9b29b5" points="927.5,366.5 935.2,366.5 938.5,371.9 935.2,377.3 927.5,377.3"/><polygon class="b" fill="#f3da5f" stroke="#f3da5f" points="942.9,366.5 991.8,366.5 995.1,371.9 991.8,377.3 942.9,377.3"/><polygon class="b" fill="#9b29b5" stroke="#9b29b5" points="1000.5,366.5 1007.6,366.5 1010.9,371.9 1007.6,377.3 1000.5,377.3"/><polygon class="b" fill="#d97a26" stroke="#d97a26" points="1020.6,366.5 1026.9,366.5 1030.2,371.9 1026.9,377.3 1020.6,377.3"/><polygon class="b" fill="#d97a26" stroke="#d97a26" points="1038.1,366.5 1060.4,366.5 1063.7,371.9 1060.4,377.3 1038.1,377.3"/><polygon fill="#d97a26" stroke="#d97a26" points="1067.5,364.9 1069.7,364.9 1074,371.9 1069.7,378.8 1067.5,378.8"/><polygon class="b" fill="#d97a26" stroke="#d97a26" points="1080.1,371.9 1082.5,366.5 1087.5,366.5 1089.9,371.9 1087.5,377.3 1082.5,377.3"/><polygon class="m" fill="#9b29b5" stroke="#9b29b5" points="1094.4,365.6 1099.5,365.6 1103.3,371.9 1099.5,378.2 1094.4,378.2"/><polygon fill="#f3da5f" stroke="#f3da5f" points="1124.6,364.9 1123.8,364.9 1120.2,371.9 1123.8,378.8 1124.6,378.8"/>
<rect x="904.6" y="364.2" width="273" height="15.4" fill="none" stroke="#1c1c1c" stroke-width="1.4"/>
<text class="chr" x="120.3" y="381.7" text-anchor="end">Chr10</text>
<path class="d" d="M130.3 399.50H1960M130.3 414.50H1960"/>
<path d="M130.3 399.3V414.7M1960 399.3V414.7" stroke="#8a8c8e" stroke-width="1" fill="none"/>
<polygon fill="#abafb3" stroke="#abafb3" points="130.8,400.1 131.7,400.1 135.4,407 131.7,413.9 130.8,413.9"/><polygon class="b" fill="#6c7074" stroke="#6c7074" points="261.4,401.6 253.3,401.6 250,407 253.3,412.4 261.4,412.4"/>
<polygon fill="#abafb3" stroke="#abafb3" points="1646.5,400.1 1645.7,400.1 1642.5,407 1645.7,413.9 1646.5,413.9"/><polygon class="b" fill="#171717" stroke="#171717" points="1685.6,401.6 1652.5,401.6 1649.2,407 1652.5,412.4 1685.6,412.4"/><polygon fill="#abafb3" stroke="#abafb3" points="1694.8,400.1 1693.1,400.1 1688.9,407 1693.1,413.9 1694.8,413.9"/><polygon class="b" fill="#171717" stroke="#171717" points="1734.1,401.6 1701.2,401.6 1697.9,407 1701.2,412.4 1734.1,412.4"/><polygon fill="#bfc2c8" stroke="#bfc2c8" points="1741.9,400.9 1740.8,400.9 1738,407 1740.8,413.1 1741.9,413.1"/><polygon fill="#a9adb3" stroke="#a9adb3" points="1747.1,400.9 1746.1,400.9 1743.2,407 1746.1,413.1 1747.1,413.1"/><polygon class="b" fill="#171717" stroke="#171717" points="1787.4,401.6 1754,401.6 1750.7,407 1754,412.4 1787.4,412.4"/><polygon fill="#bfc2c8" stroke="#bfc2c8" points="1794.7,400.9 1794,400.9 1791.5,407 1794,413.1 1794.7,413.1"/><polygon class="b" fill="#1f2222" stroke="#1f2222" points="1830.2,401.6 1801.4,401.6 1798.1,407 1801.4,412.4 1830.2,412.4"/><polygon fill="#bfc2c8" stroke="#bfc2c8" points="1835.3,400.9 1835,400.9 1833.8,407 1835,413.1 1835.3,413.1"/><polygon class="b" fill="#171717" stroke="#171717" points="1874.6,401.6 1841.8,401.6 1838.5,407 1841.8,412.4 1874.6,412.4"/><polygon fill="#bfc2c8" stroke="#bfc2c8" points="1881.2,400.9 1880.6,400.9 1878.2,407 1880.6,413.1 1881.2,413.1"/><polygon class="b" fill="#1f2222" stroke="#1f2222" points="1918,401.6 1887.8,401.6 1884.5,407 1887.8,412.4 1918,412.4"/><polygon fill="#bfc2c8" stroke="#bfc2c8" points="1922.8,400.9 1922.5,400.9 1921,407 1922.5,413.1 1922.8,413.1"/><polygon class="b" fill="#171717" stroke="#171717" points="1957.8,401.6 1929.2,401.6 1925.9,407 1929.2,412.4 1957.8,412.4"/>
<rect x="885.5" y="398.5" width="311.8" height="17" fill="#fff" stroke="none"/>
<polygon fill="#1689c0" stroke="#1689c0" points="942.5,400.1 943.5,400.1 947.5,407 943.5,413.9 942.5,413.9"/><polygon class="b" fill="#1689c0" stroke="#1689c0" points="965.5,401.6 953.5,401.6 950.2,407 953.5,412.4 965.5,412.4"/><polygon class="m" fill="#9b29b5" stroke="#9b29b5" points="985.2,400.7 982.7,400.7 978.9,407 982.7,413.3 985.2,413.3"/><polygon fill="#1689c0" stroke="#1689c0" points="1028,400.1 1027.4,400.1 1025,407 1027.4,413.9 1028,413.9"/><polygon class="b" fill="#f3da5f" stroke="#f3da5f" points="1084.6,401.6 1039.4,401.6 1036.1,407 1039.4,412.4 1084.6,412.4"/><polygon class="b" fill="#f3da5f" stroke="#f3da5f" points="1137.9,401.6 1093.7,401.6 1090.4,407 1093.7,412.4 1137.9,412.4"/><polygon class="b" fill="#1689c0" stroke="#1689c0" points="1144.3,407 1146.7,401.6 1151.7,401.6 1154.1,407 1151.7,412.4 1146.7,412.4"/><polygon class="m" fill="#d97a26" stroke="#d97a26" points="1181.2,407 1183.9,400.7 1188.8,400.7 1191.5,407 1188.8,413.3 1183.9,413.3"/>
<rect x="885.5" y="399.3" width="311.8" height="15.4" fill="none" stroke="#1c1c1c" stroke-width="1.4"/>
<text class="chr" x="120.3" y="416.8" text-anchor="end">Chr11</text>
<path class="d" d="M130.3 434.25H1960M130.3 449.75H1960"/>
<path d="M130.3 434.4V449.8M1960 434.4V449.8" stroke="#8a8c8e" stroke-width="1" fill="none"/>
<polygon class="b" fill="#171717" stroke="#171717" points="133,436.7 162.8,436.7 166.1,442.1 162.8,447.5 133,447.5"/><polygon fill="#bfc2c8" stroke="#bfc2c8" points="169.2,436 171,436 173.9,442.1 171,448.3 169.2,448.3"/><polygon class="b" fill="#171717" stroke="#171717" points="177.4,436.7 208.8,436.7 212.1,442.1 208.8,447.5 177.4,447.5"/><polygon fill="#bfc2c8" stroke="#bfc2c8" points="214.8,436 215.4,436 218.1,442.1 215.4,448.3 214.8,448.3"/><polygon fill="#a9adb3" stroke="#a9adb3" points="219.3,436 220,436 222.7,442.1 220,448.3 219.3,448.3"/><polygon fill="#bfc2c8" stroke="#bfc2c8" points="223.9,436 224.6,436 227.3,442.1 224.6,448.3 223.9,448.3"/>
<polygon fill="#bfc2c8" stroke="#bfc2c8" points="1879.4,436 1878.8,436 1876.2,442.1 1878.8,448.3 1879.4,448.3"/><polygon fill="#a9adb3" stroke="#a9adb3" points="1883.9,436 1883.3,436 1880.7,442.1 1883.3,448.3 1883.9,448.3"/><polygon class="m" fill="#abafb3" stroke="#abafb3" points="1893.6,435.8 1889.8,435.8 1886,442.1 1889.8,448.4 1893.6,448.4"/><polygon fill="#bfc2c8" stroke="#bfc2c8" points="1898.3,436 1897.8,436 1896,442.1 1897.8,448.3 1898.3,448.3"/><polygon fill="#a9adb3" stroke="#a9adb3" points="1901.8,436 1901.3,436 1899.5,442.1 1901.3,448.3 1901.8,448.3"/><polygon class="m" fill="#abafb3" stroke="#abafb3" points="1913.9,435.8 1907.9,435.8 1904.1,442.1 1907.9,448.4 1913.9,448.4"/><polygon fill="#bfc2c8" stroke="#bfc2c8" points="1919,436 1918.3,436 1915.7,442.1 1918.3,448.3 1919,448.3"/><polygon fill="#a9adb3" stroke="#a9adb3" points="1923.6,436 1922.9,436 1920.2,442.1 1922.9,448.3 1923.6,448.3"/><polygon fill="#bfc2c8" stroke="#bfc2c8" points="1928.2,436 1927.5,436 1924.9,442.1 1927.5,448.3 1928.2,448.3"/><polygon class="b" fill="#505456" stroke="#505456" points="1956.4,436.7 1934.9,436.7 1931.6,442.1 1934.9,447.5 1956.4,447.5"/>
<rect x="890.8" y="433.6" width="301" height="17" fill="#fff" stroke="none"/>
<polygon fill="#1689c0" stroke="#1689c0" points="907.7,435.2 908.4,435.2 911.4,442.1 908.4,449.1 907.7,449.1"/><polygon fill="#f3da5f" stroke="#f3da5f" points="914,435.2 914.6,435.2 917.3,442.1 914.6,449.1 914,449.1"/><polygon class="m" fill="#9b29b5" stroke="#9b29b5" points="933.9,435.8 932.4,435.8 928.6,442.1 932.4,448.4 933.9,448.4"/><polygon class="b" fill="#d97a26" stroke="#d97a26" points="942.9,436.7 974.1,436.7 977.4,442.1 974.1,447.5 942.9,447.5"/><polygon class="b" fill="#f3da5f" stroke="#f3da5f" points="1001,436.7 985.1,436.7 981.8,442.1 985.1,447.5 1001,447.5"/><polygon class="b" fill="#f3da5f" stroke="#f3da5f" points="1022.7,436.7 1010.7,436.7 1007.4,442.1 1010.7,447.5 1022.7,447.5"/><polygon class="m" fill="#9b29b5" stroke="#9b29b5" points="1031.9,435.8 1029.6,435.8 1025.8,442.1 1029.6,448.4 1031.9,448.4"/><polygon class="b" fill="#f3da5f" stroke="#f3da5f" points="1039.1,436.7 1071.8,436.7 1075.1,442.1 1071.8,447.5 1039.1,447.5"/><polygon class="m" fill="#f3da5f" stroke="#f3da5f" points="1082.2,435.8 1085.1,435.8 1088.9,442.1 1085.1,448.4 1082.2,448.4"/><polygon fill="#f3da5f" stroke="#f3da5f" points="1094.5,435.2 1096.3,435.2 1100.5,442.1 1096.3,449.1 1094.5,449.1"/><polygon class="b" fill="#d99bc0" stroke="#d99bc0" points="1115.6,436.7 1109.5,436.7 1106.2,442.1 1109.5,447.5 1115.6,447.5"/><polygon class="b" fill="#14aa8d" stroke="#14aa8d" points="1159.6,436.7 1144.4,436.7 1141.1,442.1 1144.4,447.5 1159.6,447.5"/><polygon fill="#1689c0" stroke="#1689c0" points="1162.2,435.2 1162.9,435.2 1165.6,442.1 1162.9,449.1 1162.2,449.1"/><polygon class="m" fill="#14aa8d" stroke="#14aa8d" points="1174.3,435.8 1171.6,435.8 1167.8,442.1 1171.6,448.4 1174.3,448.4"/><polygon class="m" fill="#1689c0" stroke="#1689c0" points="1189.5,435.8 1188,435.8 1184.2,442.1 1188,448.4 1189.5,448.4"/>
<rect x="890.8" y="434.4" width="301" height="15.4" fill="none" stroke="#1c1c1c" stroke-width="1.4"/>
<text class="chr" x="120.3" y="451.9" text-anchor="end">Chr12</text>
<path class="d" d="M130.3 469.50H1960M130.3 485.00H1960"/>
<path d="M130.3 469.6V485M1960 469.6V485" stroke="#8a8c8e" stroke-width="1" fill="none"/>
<polygon class="b" fill="#6c7074" stroke="#6c7074" points="134,471.9 146.5,471.9 149.8,477.3 146.5,482.7 134,482.7"/><polygon fill="#bfc2c8" stroke="#bfc2c8" points="152.4,471.1 153.7,471.1 156.6,477.3 153.7,483.4 152.4,483.4"/><polygon class="b" fill="#1f2222" stroke="#1f2222" points="160.1,471.9 189.5,471.9 192.8,477.3 189.5,482.7 160.1,482.7"/><polygon class="m" fill="#999da1" stroke="#999da1" points="197.3,471 199.3,471 203.1,477.3 199.3,483.6 197.3,483.6"/><polygon class="b" fill="#6c7074" stroke="#6c7074" points="208,471.9 219.1,471.9 222.4,477.3 219.1,482.7 208,482.7"/><line x1="251.2" x2="251.2" y1="471.1" y2="485" stroke="#c2c4c8" stroke-width="1"/>
<polygon fill="#6c7074" stroke="#6c7074" points="1959.7,470.3 1959.6,470.3 1959.1,477.3 1959.6,484.2 1959.7,484.2"/>
<rect x="824.3" y="468.8" width="434.1" height="17" fill="#fff" stroke="none"/>
<polygon fill="#1689c0" stroke="#1689c0" points="838.6,470.3 839.3,470.3 842.3,477.3 839.3,484.2 838.6,484.2"/><polygon fill="#1689c0" stroke="#1689c0" points="855.4,470.3 856.2,470.3 859.8,477.3 856.2,484.2 855.4,484.2"/><polygon fill="#f3da5f" stroke="#f3da5f" points="886.7,470.3 887.6,470.3 891.3,477.3 887.6,484.2 886.7,484.2"/><polygon fill="#f3da5f" stroke="#f3da5f" points="928.8,470.3 928,470.3 924.8,477.3 928,484.2 928.8,484.2"/><polygon class="m" fill="#d99bc0" stroke="#d99bc0" points="935.8,471 934.3,471 930.5,477.3 934.3,483.6 935.8,483.6"/><polygon class="b" fill="#f3da5f" stroke="#f3da5f" points="945.9,477.3 948.3,471.9 957.2,471.9 959.6,477.3 957.2,482.7 948.3,482.7"/><polygon fill="#9b29b5" stroke="#9b29b5" points="962.2,470.3 962.9,470.3 965.6,477.3 962.9,484.2 962.2,484.2"/><polygon fill="#9b29b5" stroke="#9b29b5" points="973.5,470.3 975.8,470.3 980,477.3 975.8,484.2 973.5,484.2"/><polygon class="b" fill="#9b29b5" stroke="#9b29b5" points="1085.9,471.9 1123.7,471.9 1127,477.3 1123.7,482.7 1085.9,482.7"/><polygon class="b" fill="#f3da5f" stroke="#f3da5f" points="1132.8,471.9 1172.1,471.9 1175.4,477.3 1172.1,482.7 1132.8,482.7"/><polygon fill="#9b29b5" stroke="#9b29b5" points="1207.5,470.3 1208.3,470.3 1211.6,477.3 1208.3,484.2 1207.5,484.2"/><polygon fill="#1689c0" stroke="#1689c0" points="1244.9,470.3 1245.6,470.3 1248.5,477.3 1245.6,484.2 1244.9,484.2"/>
<rect x="824.3" y="469.6" width="434.1" height="15.4" fill="none" stroke="#1c1c1c" stroke-width="1.4"/>
<text class="chr" x="120.3" y="487.1" text-anchor="end">Chr13</text>
<path class="d" d="M130.3 504.75H1960M130.3 520.25H1960"/>
<path d="M130.3 504.7V520.1M1960 504.7V520.1" stroke="#8a8c8e" stroke-width="1" fill="none"/>
<polygon class="b" fill="#171717" stroke="#171717" points="134,507 165.4,507 168.7,512.4 165.4,517.8 134,517.8"/><polygon fill="#bfc2c8" stroke="#bfc2c8" points="171.3,506.3 172,506.3 174.7,512.4 172,518.6 171.3,518.6"/><polygon fill="#a9adb3" stroke="#a9adb3" points="175.9,506.3 176.6,506.3 179.3,512.4 176.6,518.6 175.9,518.6"/><polygon fill="#bfc2c8" stroke="#bfc2c8" points="180.5,506.3 181.2,506.3 183.9,512.4 181.2,518.6 180.5,518.6"/><polygon class="b" fill="#171717" stroke="#171717" points="187.3,507 219.1,507 222.4,512.4 219.1,517.8 187.3,517.8"/><polygon fill="#bfc2c8" stroke="#bfc2c8" points="225.2,506.3 225.8,506.3 228,512.4 225.8,518.6 225.2,518.6"/><polygon class="b" fill="#171717" stroke="#171717" points="231.3,507 263.4,507 266.7,512.4 263.4,517.8 231.3,517.8"/><polygon class="m" fill="#999da1" stroke="#999da1" points="272.2,506.1 273.7,506.1 277.5,512.4 273.7,518.7 272.2,518.7"/><polygon class="b" fill="#505456" stroke="#505456" points="282,507 302.9,507 306.2,512.4 302.9,517.8 282,517.8"/><polygon fill="#bfc2c8" stroke="#bfc2c8" points="308.8,506.3 309.9,506.3 312.8,512.4 309.9,518.6 308.8,518.6"/><polygon fill="#a9adb3" stroke="#a9adb3" points="314.1,506.3 315.1,506.3 318,512.4 315.1,518.6 314.1,518.6"/>
<line x1="1697.6" x2="1697.6" y1="506.2" y2="520.1" stroke="#c2c4c8" stroke-width="1"/><polygon class="b" fill="#6c7074" stroke="#6c7074" points="1779.8,507 1763.5,507 1760.2,512.4 1763.5,517.8 1779.8,517.8"/><polygon fill="#bfc2c8" stroke="#bfc2c8" points="1786.2,506.3 1785.5,506.3 1783,512.4 1785.5,518.6 1786.2,518.6"/><polygon class="b" fill="#505456" stroke="#505456" points="1811.8,507 1792.5,507 1789.2,512.4 1792.5,517.8 1811.8,517.8"/><polygon class="m" fill="#999da1" stroke="#999da1" points="1827.1,506.1 1820.7,506.1 1816.9,512.4 1820.7,518.7 1827.1,518.7"/><polygon class="b" fill="#6c7074" stroke="#6c7074" points="1852.8,507 1834.9,507 1831.6,512.4 1834.9,517.8 1852.8,517.8"/><polygon class="b" fill="#6c7074" stroke="#6c7074" points="1878.8,507 1861.5,507 1858.2,512.4 1861.5,517.8 1878.8,517.8"/><polygon class="b" fill="#1f2222" stroke="#1f2222" points="1917,507 1887.2,507 1883.9,512.4 1887.2,517.8 1917,517.8"/><polygon fill="#bfc2c8" stroke="#bfc2c8" points="1925.1,506.3 1923.3,506.3 1920.5,512.4 1923.3,518.6 1925.1,518.6"/><polygon class="m" fill="#abafb3" stroke="#abafb3" points="1932.3,506.1 1931.1,506.1 1927.3,512.4 1931.1,518.7 1932.3,518.7"/><polygon class="b" fill="#505456" stroke="#505456" points="1957,507 1939.5,507 1936.2,512.4 1939.5,517.8 1957,517.8"/>
<rect x="858.8" y="503.9" width="364.5" height="17" fill="#fff" stroke="none"/>
<polygon class="m" fill="#14aa8d" stroke="#14aa8d" points="881,506.1 877.1,506.1 873.3,512.4 877.1,518.7 881,518.7"/><polygon class="b" fill="#1689c0" stroke="#1689c0" points="891.6,507 935.2,507 938.5,512.4 935.2,517.8 891.6,517.8"/><polygon class="b" fill="#f3da5f" stroke="#f3da5f" points="950.2,507 984.5,507 987.8,512.4 984.5,517.8 950.2,517.8"/><polygon class="b" fill="#f3da5f" stroke="#f3da5f" points="996.5,507 1003.6,507 1006.9,512.4 1003.6,517.8 996.5,517.8"/><polygon fill="#9b29b5" stroke="#9b29b5" points="1010.2,505.5 1011.3,505.5 1015.5,512.4 1011.3,519.4 1010.2,519.4"/><polygon fill="#9b29b5" stroke="#9b29b5" points="1026.5,505.5 1025.6,505.5 1022.1,512.4 1025.6,519.4 1026.5,519.4"/><polygon class="b" fill="#d99bc0" stroke="#d99bc0" points="1060.4,507 1033.4,507 1030.1,512.4 1033.4,517.8 1060.4,517.8"/><polygon class="b" fill="#f3da5f" stroke="#f3da5f" points="1113.6,507 1079.3,507 1076,512.4 1079.3,517.8 1113.6,517.8"/><polygon fill="#9b29b5" stroke="#9b29b5" points="1121.2,505.5 1120.2,505.5 1116.2,512.4 1120.2,519.4 1121.2,519.4"/><polygon fill="#9b29b5" stroke="#9b29b5" points="1127.8,505.5 1126.4,505.5 1122.2,512.4 1126.4,519.4 1127.8,519.4"/><polygon fill="#f3da5f" stroke="#f3da5f" points="1141.5,505.5 1139.3,505.5 1135,512.4 1139.3,519.4 1141.5,519.4"/><polygon fill="#1689c0" stroke="#1689c0" points="1177.5,505.5 1178.2,505.5 1181.5,512.4 1178.2,519.4 1177.5,519.4"/><polygon fill="#f3da5f" stroke="#f3da5f" points="1193.2,505.5 1192.5,505.5 1189.2,512.4 1192.5,519.4 1193.2,519.4"/>
<rect x="858.8" y="504.7" width="364.5" height="15.4" fill="none" stroke="#1c1c1c" stroke-width="1.4"/>
<text class="chr" x="120.3" y="522.2" text-anchor="end">Chr14</text>
<path class="d" d="M130.3 584.75H1960M130.3 600.25H1960"/>
<path d="M130.3 585V600.4M1960 585V600.4" stroke="#8a8c8e" stroke-width="1" fill="none"/>
<polygon class="m" fill="#999da1" stroke="#999da1" points="135.1,586.4 140.2,586.4 144,592.7 140.2,599 135.1,599"/><polygon class="b" fill="#171717" stroke="#171717" points="148.4,587.3 182.6,587.3 185.9,592.7 182.6,598.1 148.4,598.1"/><polygon fill="#bfc2c8" stroke="#bfc2c8" points="188.5,586.6 189.3,586.6 192.2,592.7 189.3,598.9 188.5,598.9"/><polygon class="b" fill="#999da1" stroke="#999da1" points="195.2,587.3 202.3,587.3 205.6,592.7 202.3,598.1 195.2,598.1"/><line x1="215.7" x2="215.7" y1="586.5" y2="600.4" stroke="#c2c4c8" stroke-width="1"/><line x1="225.5" x2="225.5" y1="586.5" y2="600.4" stroke="#c2c4c8" stroke-width="1"/><line x1="235.4" x2="235.4" y1="586.5" y2="600.4" stroke="#c2c4c8" stroke-width="1"/><polygon class="b" fill="#6c7074" stroke="#6c7074" points="241,587.3 258.1,587.3 261.4,592.7 258.1,598.1 241,598.1"/><line x1="547" x2="547" y1="586.5" y2="600.4" stroke="#c2c4c8" stroke-width="1"/>
<line x1="1843.2" x2="1843.2" y1="586.5" y2="600.4" stroke="#c2c4c8" stroke-width="1"/><polygon fill="#bfc2c8" stroke="#bfc2c8" points="1857.4,586.6 1856.3,586.6 1853.5,592.7 1856.3,598.9 1857.4,598.9"/><polygon fill="#a9adb3" stroke="#a9adb3" points="1862.7,586.6 1861.6,586.6 1858.8,592.7 1861.6,598.9 1862.7,598.9"/><polygon fill="#bfc2c8" stroke="#bfc2c8" points="1868,586.6 1866.9,586.6 1864.1,592.7 1866.9,598.9 1868,598.9"/><polygon class="b" fill="#171717" stroke="#171717" points="1908.5,587.3 1874.4,587.3 1871.1,592.7 1874.4,598.1 1908.5,598.1"/><polygon fill="#bfc2c8" stroke="#bfc2c8" points="1914.3,586.6 1913.8,586.6 1912,592.7 1913.8,598.9 1914.3,598.9"/><polygon class="b" fill="#171717" stroke="#171717" points="1954.8,587.3 1920.7,587.3 1917.4,592.7 1920.7,598.1 1954.8,598.1"/><line x1="1958.5" x2="1958.5" y1="586.5" y2="600.4" stroke="#c2c4c8" stroke-width="1"/>
<rect x="755" y="584.2" width="590.6" height="17" fill="#fff" stroke="none"/>
<polygon fill="#f3da5f" stroke="#f3da5f" points="778.8,585.8 779.6,585.8 783.2,592.7 779.6,599.7 778.8,599.7"/><polygon fill="#1689c0" stroke="#1689c0" points="795.2,585.8 795.9,585.8 798.9,592.7 795.9,599.7 795.2,599.7"/><polygon class="b" fill="#f3da5f" stroke="#f3da5f" points="801.6,587.3 816.2,587.3 819.5,592.7 816.2,598.1 801.6,598.1"/><polygon class="m" fill="#9b29b5" stroke="#9b29b5" points="830.3,586.4 827.4,586.4 823.6,592.7 827.4,599 830.3,599"/><polygon class="m" fill="#f3da5f" stroke="#f3da5f" points="832.9,586.4 835,586.4 838.8,592.7 835,599 832.9,599"/><polygon fill="#9b29b5" stroke="#9b29b5" points="847.2,585.8 848,585.8 850.8,592.7 848,599.7 847.2,599.7"/><polygon fill="#9b29b5" stroke="#9b29b5" points="854.4,585.8 855.4,585.8 859.3,592.7 855.4,599.7 854.4,599.7"/><polygon fill="#d97a26" stroke="#d97a26" points="867.6,585.8 868.4,585.8 871.9,592.7 868.4,599.7 867.6,599.7"/><polygon class="m" fill="#d99bc0" stroke="#d99bc0" points="877.3,586.4 883.1,586.4 886.9,592.7 883.1,599 877.3,599"/><polygon class="b" fill="#f3da5f" stroke="#f3da5f" points="912.3,587.3 894.9,587.3 891.6,592.7 894.9,598.1 912.3,598.1"/><polygon class="b" fill="#d97a26" stroke="#d97a26" points="922.6,587.3 963.6,587.3 966.9,592.7 963.6,598.1 922.6,598.1"/><polygon class="b" fill="#d97a26" stroke="#d97a26" points="1048.5,587.3 1005.4,587.3 1002.1,592.7 1005.4,598.1 1048.5,598.1"/><polygon class="b" fill="#f3da5f" stroke="#f3da5f" points="1129.4,587.3 1104.2,587.3 1100.9,592.7 1104.2,598.1 1129.4,598.1"/><polygon class="m" fill="#d99bc0" stroke="#d99bc0" points="1132.9,586.4 1137.3,586.4 1141.1,592.7 1137.3,599 1132.9,599"/><polygon fill="#f3da5f" stroke="#f3da5f" points="1146.5,585.8 1147.3,585.8 1150.8,592.7 1147.3,599.7 1146.5,599.7"/><polygon fill="#d97a26" stroke="#d97a26" points="1160.3,585.8 1159.4,585.8 1155.8,592.7 1159.4,599.7 1160.3,599.7"/><polygon class="b" fill="#f3da5f" stroke="#f3da5f" points="1191.5,587.3 1169.3,587.3 1166,592.7 1169.3,598.1 1191.5,598.1"/><polygon class="b" fill="#d97a26" stroke="#d97a26" points="1198.9,587.3 1209,587.3 1212.3,592.7 1209,598.1 1198.9,598.1"/><polygon class="b" fill="#14aa8d" stroke="#14aa8d" points="1241.8,587.3 1222.5,587.3 1219.2,592.7 1222.5,598.1 1241.8,598.1"/><polygon class="m" fill="#14aa8d" stroke="#14aa8d" points="1305.5,586.4 1299.5,586.4 1295.7,592.7 1299.5,599 1305.5,599"/><polygon fill="#1689c0" stroke="#1689c0" points="1336,585.8 1335.1,585.8 1331.7,592.7 1335.1,599.7 1336,599.7"/>
<rect x="755" y="585" width="590.6" height="15.4" fill="none" stroke="#1c1c1c" stroke-width="1.4"/>
<text class="chr" x="118.8" y="601.8" text-anchor="end">Chr01</text>
<path class="d" d="M130.3 620.00H1960M130.3 635.50H1960"/>
<path d="M130.3 620.1V635.5M1960 620.1V635.5" stroke="#8a8c8e" stroke-width="1" fill="none"/>
<polygon class="m" fill="#999da1" stroke="#999da1" points="134.1,621.5 137,621.5 140.8,627.8 137,634.1 134.1,634.1"/><line x1="144.6" x2="144.6" y1="621.6" y2="635.5" stroke="#c2c4c8" stroke-width="1"/><polygon class="b" fill="#171717" stroke="#171717" points="148.4,622.4 181.6,622.4 184.9,627.8 181.6,633.2 148.4,633.2"/><polygon fill="#bfc2c8" stroke="#bfc2c8" points="187.5,621.7 188,621.7 189.8,627.8 188,634 187.5,634"/><polygon fill="#a9adb3" stroke="#a9adb3" points="191,621.7 191.5,621.7 193.3,627.8 191.5,634 191,634"/><polygon class="m" fill="#abafb3" stroke="#abafb3" points="195.3,621.5 196.8,621.5 200.6,627.8 196.8,634.1 195.3,634.1"/><polygon class="m" fill="#abafb3" stroke="#abafb3" points="204.2,621.5 205.6,621.5 209.4,627.8 205.6,634.1 204.2,634.1"/><polygon fill="#bfc2c8" stroke="#bfc2c8" points="211.4,621.7 211.9,621.7 213.8,627.8 211.9,634 211.4,634"/><polygon class="m" fill="#999da1" stroke="#999da1" points="216,621.5 218.5,621.5 222.3,627.8 218.5,634.1 216,634.1"/><polygon fill="#bfc2c8" stroke="#bfc2c8" points="224,621.7 225.2,621.7 228.1,627.8 225.2,634 224,634"/>
<polygon fill="#c6c8ce" stroke="#c6c8ce" points="1457.9,620.9 1458.7,620.9 1462.2,627.8 1458.7,634.8 1457.9,634.8"/><line x1="1476.1" x2="1476.1" y1="621.6" y2="635.5" stroke="#c2c4c8" stroke-width="1"/>
<rect x="886.4" y="619.3" width="328.1" height="17" fill="#fff" stroke="none"/>
<polygon fill="#1689c0" stroke="#1689c0" points="893.2,620.9 892.6,620.9 890.2,627.8 892.6,634.8 893.2,634.8"/><polygon class="b" fill="#1689c0" stroke="#1689c0" points="902.8,622.4 946.4,622.4 949.7,627.8 946.4,633.2 902.8,633.2"/><polygon fill="#1689c0" stroke="#1689c0" points="969.2,620.9 970,620.9 973.5,627.8 970,634.8 969.2,634.8"/><polygon class="b" fill="#f3da5f" stroke="#f3da5f" points="987.3,622.4 1021.4,622.4 1024.7,627.8 1021.4,633.2 987.3,633.2"/><polygon fill="#f3da5f" stroke="#f3da5f" points="1028.4,620.9 1029,620.9 1031.3,627.8 1029,634.8 1028.4,634.8"/><polygon class="m" fill="#d97a26" stroke="#d97a26" points="1035.2,627.8 1037.3,621.5 1039.4,621.5 1041.5,627.8 1039.4,634.1 1037.3,634.1"/><polygon class="b" fill="#d97a26" stroke="#d97a26" points="1051.3,627.8 1053.7,622.4 1059.3,622.4 1061.7,627.8 1059.3,633.2 1053.7,633.2"/><polygon class="b" fill="#d97a26" stroke="#d97a26" points="1072.2,622.4 1094.5,622.4 1097.8,627.8 1094.5,633.2 1072.2,633.2"/><polygon fill="#f3da5f" stroke="#f3da5f" points="1136.5,620.9 1134.9,620.9 1130.7,627.8 1134.9,634.8 1136.5,634.8"/><polygon fill="#f3da5f" stroke="#f3da5f" points="1138,627.8 1140.1,620.9 1141.9,620.9 1144,627.8 1141.9,634.8 1140.1,634.8"/><polygon class="m" fill="#d97a26" stroke="#d97a26" points="1146.7,621.5 1149.6,621.5 1153.4,627.8 1149.6,634.1 1146.7,634.1"/><polygon fill="#1689c0" stroke="#1689c0" points="1167,620.9 1166.4,620.9 1163.7,627.8 1166.4,634.8 1167,634.8"/><polygon class="b" fill="#1689c0" stroke="#1689c0" points="1201.4,622.4 1178.5,622.4 1175.2,627.8 1178.5,633.2 1201.4,633.2"/>
<rect x="886.4" y="620.1" width="328.1" height="15.4" fill="none" stroke="#1c1c1c" stroke-width="1.4"/>
<text class="chr" x="118.8" y="636.9" text-anchor="end">Chr02</text>
<path class="d" d="M130.3 655.25H1960M130.3 670.75H1960"/>
<path d="M130.3 655.3V670.7M1960 655.3V670.7" stroke="#8a8c8e" stroke-width="1" fill="none"/>
<polygon class="m" fill="#999da1" stroke="#999da1" points="132.1,656.7 134.6,656.7 138.4,663 134.6,669.3 132.1,669.3"/><polygon fill="#abafb3" stroke="#abafb3" points="140.1,656 141.1,656 144.8,663 141.1,669.9 140.1,669.9"/><polygon class="m" fill="#999da1" stroke="#999da1" points="154.4,656.7 157.9,656.7 161.7,663 157.9,669.3 154.4,669.3"/><polygon class="b" fill="#84888c" stroke="#84888c" points="177,657.6 186.5,657.6 189.8,663 186.5,668.4 177,668.4"/><polygon class="m" fill="#999da1" stroke="#999da1" points="200.2,656.7 203.7,656.7 207.5,663 203.7,669.3 200.2,669.3"/><polygon fill="#abafb3" stroke="#abafb3" points="209.2,656 211.6,656 215.9,663 211.6,669.9 209.2,669.9"/>
<polygon class="b" fill="#6c7074" stroke="#6c7074" points="1824.3,657.6 1812.2,657.6 1808.9,663 1812.2,668.4 1824.3,668.4"/><line x1="1828" x2="1828" y1="656.8" y2="670.7" stroke="#c2c4c8" stroke-width="1"/><line x1="1830" x2="1830" y1="656.8" y2="670.7" stroke="#c2c4c8" stroke-width="1"/><polygon class="m" fill="#999da1" stroke="#999da1" points="1847.8,656.7 1842.8,656.7 1839,663 1842.8,669.3 1847.8,669.3"/><polygon class="m" fill="#999da1" stroke="#999da1" points="1858.7,656.7 1855.2,656.7 1851.4,663 1855.2,669.3 1858.7,669.3"/><line x1="1863" x2="1863" y1="656.8" y2="670.7" stroke="#c2c4c8" stroke-width="1"/><line x1="1872" x2="1872" y1="656.8" y2="670.7" stroke="#c2c4c8" stroke-width="1"/><polygon class="b" fill="#84888c" stroke="#84888c" points="1895.3,657.6 1881.3,657.6 1878,663 1881.3,668.4 1895.3,668.4"/><polygon class="b" fill="#171717" stroke="#171717" points="1937.7,657.6 1904.9,657.6 1901.6,663 1904.9,668.4 1937.7,668.4"/><polygon class="b" fill="#84888c" stroke="#84888c" points="1957.4,657.6 1946,657.6 1942.7,663 1946,668.4 1957.4,668.4"/>
<rect x="925.7" y="654.5" width="249.9" height="17" fill="#fff" stroke="none"/>
<polygon class="b" fill="#f3da5f" stroke="#f3da5f" points="1000.1,657.6 1043.2,657.6 1046.5,663 1043.2,668.4 1000.1,668.4"/><polygon class="b" fill="#9b29b5" stroke="#9b29b5" points="1051.3,657.6 1063.6,657.6 1066.9,663 1063.6,668.4 1051.3,668.4"/><polygon fill="#1689c0" stroke="#1689c0" points="1096,656 1096.5,656 1099,663 1096.5,669.9 1096,669.9"/><polygon class="b" fill="#f3da5f" stroke="#f3da5f" points="1126.8,657.6 1110.5,657.6 1107.2,663 1110.5,668.4 1126.8,668.4"/><polygon class="b" fill="#d99bc0" stroke="#d99bc0" points="1147.5,657.6 1141.4,657.6 1138.1,663 1141.4,668.4 1147.5,668.4"/><polygon fill="#1689c0" stroke="#1689c0" points="1166,656 1166.7,656 1169.6,663 1166.7,669.9 1166,669.9"/>
<rect x="925.7" y="655.3" width="249.9" height="15.4" fill="none" stroke="#1c1c1c" stroke-width="1.4"/>
<text class="chr" x="118.8" y="672.1" text-anchor="end">Chr03</text>
<path class="d" d="M130.3 690.25H1960M130.3 705.50H1960"/>
<path d="M130.3 690.4V705.8M1960 690.4V705.8" stroke="#8a8c8e" stroke-width="1" fill="none"/>

<polygon fill="#bfc2c8" stroke="#bfc2c8" points="1864.6,692 1863.8,692 1861,698.1 1863.8,704.3 1864.6,704.3"/><polygon class="b" fill="#171717" stroke="#171717" points="1905.1,692.7 1871.4,692.7 1868.1,698.1 1871.4,703.5 1905.1,703.5"/><polygon fill="#bfc2c8" stroke="#bfc2c8" points="1911.7,692 1911.1,692 1908.8,698.1 1911.1,704.3 1911.7,704.3"/><polygon class="b" fill="#171717" stroke="#171717" points="1952.5,692.7 1918.2,692.7 1914.9,698.1 1918.2,703.5 1952.5,703.5"/><polygon fill="#bfc2c8" stroke="#bfc2c8" points="1959.2,692 1958.5,692 1956,698.1 1958.5,704.3 1959.2,704.3"/>
<rect x="806.5" y="689.6" width="487.9" height="17" fill="#fff" stroke="none"/>
<polygon class="b" fill="#f3da5f" stroke="#f3da5f" points="888.6,698.1 891,692.7 946.7,692.7 949.1,698.1 946.7,703.5 891,703.5"/><polygon class="b" fill="#9b29b5" stroke="#9b29b5" points="975.4,692.7 959.8,692.7 956.5,698.1 959.8,703.5 975.4,703.5"/><polygon class="b" fill="#d97a26" stroke="#d97a26" points="1027.7,692.7 984.5,692.7 981.2,698.1 984.5,703.5 1027.7,703.5"/><polygon class="b" fill="#9b29b5" stroke="#9b29b5" points="1045.9,692.7 1040.4,692.7 1037.1,698.1 1040.4,703.5 1045.9,703.5"/><polygon fill="#9b29b5" stroke="#9b29b5" points="1055.1,691.2 1053.4,691.2 1049.2,698.1 1053.4,705.1 1055.1,705.1"/><polygon class="b" fill="#9b29b5" stroke="#9b29b5" points="1097.8,692.7 1068.6,692.7 1065.3,698.1 1068.6,703.5 1097.8,703.5"/><polygon fill="#9b29b5" stroke="#9b29b5" points="1106.5,691.2 1105.3,691.2 1101,698.1 1105.3,705.1 1106.5,705.1"/><polygon class="b" fill="#9b29b5" stroke="#9b29b5" points="1148.1,692.7 1119.7,692.7 1116.4,698.1 1119.7,703.5 1148.1,703.5"/><polygon fill="#9b29b5" stroke="#9b29b5" points="1157.3,691.2 1155.4,691.2 1151.2,698.1 1155.4,705.1 1157.3,705.1"/><polygon fill="#9b29b5" stroke="#9b29b5" points="1165.6,691.2 1165,691.2 1162.2,698.1 1165,705.1 1165.6,705.1"/><polygon fill="#f3da5f" stroke="#f3da5f" points="1170.2,691.2 1170.8,691.2 1173.3,698.1 1170.8,705.1 1170.2,705.1"/><polygon fill="#f3da5f" stroke="#f3da5f" points="1177.5,691.2 1176.9,691.2 1174.2,698.1 1176.9,705.1 1177.5,705.1"/><polygon fill="#9b29b5" stroke="#9b29b5" points="1180,691.2 1182.1,691.2 1186.3,698.1 1182.1,705.1 1180,705.1"/><polygon class="b" fill="#f3da5f" stroke="#f3da5f" points="1219.2,692.7 1193.3,692.7 1190,698.1 1193.3,703.5 1219.2,703.5"/><polygon class="b" fill="#9b29b5" stroke="#9b29b5" points="1224.5,698.1 1226.9,692.7 1233.5,692.7 1235.9,698.1 1233.5,703.5 1226.9,703.5"/><polygon fill="#f3da5f" stroke="#f3da5f" points="1242.6,691.2 1242,691.2 1239.5,698.1 1242,705.1 1242.6,705.1"/><polygon fill="#9b29b5" stroke="#9b29b5" points="1248.5,691.2 1247.9,691.2 1245.5,698.1 1247.9,705.1 1248.5,705.1"/>
<rect x="806.5" y="690.4" width="487.9" height="15.4" fill="none" stroke="#1c1c1c" stroke-width="1.4"/>
<text class="chr" x="118.8" y="707.2" text-anchor="end">Chr04</text>
<path class="d" d="M130.3 725.50H1960M130.3 740.75H1960"/>
<path d="M130.3 725.6V741M1960 725.6V741" stroke="#8a8c8e" stroke-width="1" fill="none"/>
<polygon fill="#bfc2c8" stroke="#bfc2c8" points="131.2,727.1 131.9,727.1 134.3,733.3 131.9,739.4 131.2,739.4"/><polygon fill="#a9adb3" stroke="#a9adb3" points="135.5,727.1 136.1,727.1 138.5,733.3 136.1,739.4 135.5,739.4"/><polygon class="m" fill="#999da1" stroke="#999da1" points="142.6,727 147.5,727 151.3,733.3 147.5,739.6 142.6,739.6"/><polygon fill="#bfc2c8" stroke="#bfc2c8" points="153,727.1 153.3,727.1 154.5,733.3 153.3,739.4 153,739.4"/><polygon fill="#1689c0" stroke="#1689c0" points="188.6,726.3 186.8,726.3 182.5,733.3 186.8,740.2 188.6,740.2"/><line x1="632" x2="632" y1="727.1" y2="741" stroke="#c2c4c8" stroke-width="1"/>
<polygon class="b" fill="#171717" stroke="#171717" points="1941.6,727.9 1908.3,727.9 1905,733.3 1908.3,738.7 1941.6,738.7"/><polygon class="m" fill="#abafb3" stroke="#abafb3" points="1951.4,727 1949.9,727 1946.1,733.3 1949.9,739.6 1951.4,739.6"/><polygon fill="#abafb3" stroke="#abafb3" points="1959.5,726.3 1958,726.3 1953.8,733.3 1958,740.2 1959.5,740.2"/>
<rect x="926.3" y="724.8" width="249.1" height="17" fill="#fff" stroke="none"/>
<polygon class="b" fill="#1689c0" stroke="#1689c0" points="931.4,727.9 938.2,727.9 941.5,733.3 938.2,738.7 931.4,738.7"/><polygon fill="#f3da5f" stroke="#f3da5f" points="944.2,726.3 944.6,726.3 946.5,733.3 944.6,740.2 944.2,740.2"/><polygon fill="#d99bc0" stroke="#d99bc0" points="956.4,726.3 955.6,726.3 952.4,733.3 955.6,740.2 956.4,740.2"/><polygon class="b" fill="#f3da5f" stroke="#f3da5f" points="959.1,727.9 1008.6,727.9 1011.9,733.3 1008.6,738.7 959.1,738.7"/><polygon fill="#d99bc0" stroke="#d99bc0" points="1015.6,726.3 1016.7,726.3 1020.9,733.3 1016.7,740.2 1015.6,740.2"/><polygon class="b" fill="#9b29b5" stroke="#9b29b5" points="1029.5,733.3 1031.9,727.9 1042.2,727.9 1044.6,733.3 1042.2,738.7 1031.9,738.7"/><polygon fill="#f3da5f" stroke="#f3da5f" points="1051.6,726.3 1051,726.3 1048.5,733.3 1051,740.2 1051.6,740.2"/><polygon fill="#9b29b5" stroke="#9b29b5" points="1059.1,726.3 1058.5,726.3 1055.8,733.3 1058.5,740.2 1059.1,740.2"/><polygon fill="#1689c0" stroke="#1689c0" points="1066.5,726.3 1067.4,726.3 1071,733.3 1067.4,740.2 1066.5,740.2"/><polygon class="b" fill="#1689c0" stroke="#1689c0" points="1074,727.9 1108.9,727.9 1112.2,733.3 1108.9,738.7 1074,738.7"/><polygon fill="#d97a26" stroke="#d97a26" points="1132.5,726.3 1131.7,726.3 1128.5,733.3 1131.7,740.2 1132.5,740.2"/><polygon fill="#d97a26" stroke="#d97a26" points="1137,726.3 1136.3,726.3 1133.5,733.3 1136.3,740.2 1137,740.2"/>
<rect x="926.3" y="725.6" width="249.1" height="15.4" fill="none" stroke="#1c1c1c" stroke-width="1.4"/>
<text class="chr" x="118.8" y="742.4" text-anchor="end">Chr05</text>
<path class="d" d="M130.3 760.50H1960M130.3 776.25H1960"/>
<path d="M130.3 760.7V776.1M1960 760.7V776.1" stroke="#8a8c8e" stroke-width="1" fill="none"/>
<polygon fill="#bfc2c8" stroke="#bfc2c8" points="131.2,762.3 131.9,762.3 134.4,768.4 131.9,774.6 131.2,774.6"/><polygon fill="#a9adb3" stroke="#a9adb3" points="135.7,762.3 136.3,762.3 138.9,768.4 136.3,774.6 135.7,774.6"/><polygon fill="#1689c0" stroke="#1689c0" points="381.2,761.5 382.6,761.5 386.9,768.4 382.6,775.4 381.2,775.4"/>
<polygon class="b" fill="#1f2222" stroke="#1f2222" points="1936.7,763 1904.9,763 1901.6,768.4 1904.9,773.8 1936.7,773.8"/><polygon fill="#bfc2c8" stroke="#bfc2c8" points="1944.1,762.3 1942.8,762.3 1940,768.4 1942.8,774.6 1944.1,774.6"/><polygon class="m" fill="#999da1" stroke="#999da1" points="1958.3,762.1 1951.9,762.1 1948.1,768.4 1951.9,774.7 1958.3,774.7"/>
<rect x="888.4" y="759.9" width="324.1" height="17" fill="#fff" stroke="none"/>
<polygon fill="#1689c0" stroke="#1689c0" points="917.5,761.5 916.8,761.5 913.6,768.4 916.8,775.4 917.5,775.4"/><polygon class="m" fill="#9b29b5" stroke="#9b29b5" points="949.3,762.1 953.3,762.1 957.1,768.4 953.3,774.7 949.3,774.7"/><polygon class="b" fill="#9b29b5" stroke="#9b29b5" points="964,763 995.8,763 999.1,768.4 995.8,773.8 964,773.8"/><polygon class="b" fill="#d97a26" stroke="#d97a26" points="1009.4,763 1051.7,763 1055,768.4 1051.7,773.8 1009.4,773.8"/><polygon class="b" fill="#9b29b5" stroke="#9b29b5" points="1060.8,763 1070.9,763 1074.2,768.4 1070.9,773.8 1060.8,773.8"/><polygon class="b" fill="#f3da5f" stroke="#f3da5f" points="1109.7,763 1082.8,763 1079.5,768.4 1082.8,773.8 1109.7,773.8"/><polygon class="m" fill="#d97a26" stroke="#d97a26" points="1113.8,762.1 1116.6,762.1 1120.4,768.4 1116.6,774.7 1113.8,774.7"/><polygon class="m" fill="#14aa8d" stroke="#14aa8d" points="1129.3,762.1 1134.4,762.1 1138.2,768.4 1134.4,774.7 1129.3,774.7"/><polygon fill="#1689c0" stroke="#1689c0" points="1144.3,761.5 1143.5,761.5 1140,768.4 1143.5,775.4 1144.3,775.4"/><polygon fill="#f3da5f" stroke="#f3da5f" points="1145.9,761.5 1146.7,761.5 1149.8,768.4 1146.7,775.4 1145.9,775.4"/><polygon class="m" fill="#9b29b5" stroke="#9b29b5" points="1152.6,762.1 1154.1,762.1 1157.9,768.4 1154.1,774.7 1152.6,774.7"/><polygon fill="#1689c0" stroke="#1689c0" points="1166,761.5 1165.3,761.5 1162.2,768.4 1165.3,775.4 1166,775.4"/>
<rect x="888.4" y="760.7" width="324.1" height="15.4" fill="none" stroke="#1c1c1c" stroke-width="1.4"/>
<text class="chr" x="118.8" y="777.5" text-anchor="end">Chr06</text>
<path class="d" d="M130.3 795.75H1960M130.3 811.25H1960"/>
<path d="M130.3 795.8V811.2M1960 795.8V811.2" stroke="#8a8c8e" stroke-width="1" fill="none"/>
<polygon fill="#abafb3" stroke="#abafb3" points="131.2,796.6 132.2,796.6 135.8,803.5 132.2,810.5 131.2,810.5"/>
<polygon fill="#abafb3" stroke="#abafb3" points="1903,796.6 1900.6,796.6 1896.4,803.5 1900.6,810.5 1903,810.5"/><polygon fill="#abafb3" stroke="#abafb3" points="1910.8,796.6 1909.1,796.6 1904.9,803.5 1909.1,810.5 1910.8,810.5"/><polygon class="b" fill="#171717" stroke="#171717" points="1950.5,798.1 1917.4,798.1 1914.1,803.5 1917.4,808.9 1950.5,808.9"/><polygon fill="#abafb3" stroke="#abafb3" points="1959.5,796.6 1958,796.6 1953.8,803.5 1958,810.5 1959.5,810.5"/>
<rect x="887.4" y="795" width="326.1" height="17" fill="#fff" stroke="none"/>
<polygon fill="#1689c0" stroke="#1689c0" points="895.2,796.6 894.5,796.6 891.2,803.5 894.5,810.5 895.2,810.5"/><polygon fill="#f3da5f" stroke="#f3da5f" points="959.2,796.6 960,796.6 962.8,803.5 960,810.5 959.2,810.5"/><polygon class="b" fill="#d97a26" stroke="#d97a26" points="965.4,798.1 979.4,798.1 982.7,803.5 979.4,808.9 965.4,808.9"/><polygon fill="#9b29b5" stroke="#9b29b5" points="1000.8,796.6 999.9,796.6 996.2,803.5 999.9,810.5 1000.8,810.5"/><polygon class="b" fill="#9b29b5" stroke="#9b29b5" points="1003.5,803.5 1005.9,798.1 1025.7,798.1 1028.1,803.5 1025.7,808.9 1005.9,808.9"/><polygon class="b" fill="#d99bc0" stroke="#d99bc0" points="1037.1,798.1 1062,798.1 1065.3,803.5 1062,808.9 1037.1,808.9"/><polygon fill="#9b29b5" stroke="#9b29b5" points="1069,796.6 1070.3,796.6 1074.5,803.5 1070.3,810.5 1069,810.5"/><polygon class="b" fill="#f3da5f" stroke="#f3da5f" points="1102.8,798.1 1094.3,798.1 1091,803.5 1094.3,808.9 1102.8,808.9"/><polygon class="m" fill="#9b29b5" stroke="#9b29b5" points="1106.3,803.5 1109,797.2 1113.8,797.2 1116.5,803.5 1113.8,809.8 1109,809.8"/><polygon class="m" fill="#9b29b5" stroke="#9b29b5" points="1125.6,797.2 1127.1,797.2 1130.9,803.5 1127.1,809.8 1125.6,809.8"/><polygon class="m" fill="#d97a26" stroke="#d97a26" points="1143.5,797.2 1142.2,797.2 1138.4,803.5 1142.2,809.8 1143.5,809.8"/><polygon class="b" fill="#f3da5f" stroke="#f3da5f" points="1150,803.5 1152.4,798.1 1158.6,798.1 1161,803.5 1158.6,808.9 1152.4,808.9"/><polygon class="m" fill="#9b29b5" stroke="#9b29b5" points="1189.7,797.2 1192.2,797.2 1196,803.5 1192.2,809.8 1189.7,809.8"/><polygon fill="#1689c0" stroke="#1689c0" points="1204.1,796.6 1203.4,796.6 1200.5,803.5 1203.4,810.5 1204.1,810.5"/>
<rect x="887.4" y="795.8" width="326.1" height="15.4" fill="none" stroke="#1c1c1c" stroke-width="1.4"/>
<text class="chr" x="118.8" y="812.6" text-anchor="end">Chr07</text>
<path class="d" d="M130.3 830.75H1960M130.3 846.25H1960"/>
<path d="M130.3 831V846.4M1960 831V846.4" stroke="#8a8c8e" stroke-width="1" fill="none"/>
<polygon fill="#c6c8ce" stroke="#c6c8ce" points="131.8,831.7 133.1,831.7 137.4,838.7 133.1,845.6 131.8,845.6"/><polygon class="m" fill="#abafb3" stroke="#abafb3" points="141,832.4 142.5,832.4 146.3,838.7 142.5,845 141,845"/><polygon class="m" fill="#abafb3" stroke="#abafb3" points="148.9,832.4 150.4,832.4 154.2,838.7 150.4,845 148.9,845"/><polygon class="b" fill="#171717" stroke="#171717" points="158.3,833.3 191.4,833.3 194.7,838.7 191.4,844.1 158.3,844.1"/><polygon class="m" fill="#abafb3" stroke="#abafb3" points="198.2,832.4 199.7,832.4 203.5,838.7 199.7,845 198.2,845"/><polygon class="m" fill="#abafb3" stroke="#abafb3" points="206.7,832.4 208,832.4 211.8,838.7 208,845 206.7,845"/><polygon fill="#abafb3" stroke="#abafb3" points="446.2,831.7 447.4,831.7 451.7,838.7 447.4,845.6 446.2,845.6"/>
<polygon class="b" fill="#505456" stroke="#505456" points="1947.5,833.3 1928,833.3 1924.7,838.7 1928,844.1 1947.5,844.1"/><polygon fill="#bfc2c8" stroke="#bfc2c8" points="1955,832.5 1954.4,832.5 1952,838.7 1954.4,844.8 1955,844.8"/><polygon fill="#a9adb3" stroke="#a9adb3" points="1959.2,832.5 1958.6,832.5 1956.2,838.7 1958.6,844.8 1959.2,844.8"/>
<rect x="904.6" y="830.2" width="292.1" height="17" fill="#fff" stroke="none"/>
<polygon class="m" fill="#1689c0" stroke="#1689c0" points="906.9,838.7 909.5,832.4 911.9,832.4 914.5,838.7 911.9,845 909.5,845"/><polygon class="b" fill="#9b29b5" stroke="#9b29b5" points="936.5,833.3 923.9,833.3 920.6,838.7 923.9,844.1 936.5,844.1"/><polygon class="b" fill="#f3da5f" stroke="#f3da5f" points="946.8,833.3 965.2,833.3 968.5,838.7 965.2,844.1 946.8,844.1"/><polygon class="m" fill="#f3da5f" stroke="#f3da5f" points="974,832.4 977,832.4 980.8,838.7 977,845 974,845"/><polygon class="b" fill="#f3da5f" stroke="#f3da5f" points="1018.8,833.3 991,833.3 987.7,838.7 991,844.1 1018.8,844.1"/><polygon fill="#f3da5f" stroke="#f3da5f" points="1028.2,831.7 1027.3,831.7 1023.8,838.7 1027.3,845.6 1028.2,845.6"/><polygon fill="#f3da5f" stroke="#f3da5f" points="1030,831.7 1030.8,831.7 1034.3,838.7 1030.8,845.6 1030,845.6"/><polygon class="m" fill="#f3da5f" stroke="#f3da5f" points="1042.1,832.4 1044.6,832.4 1048.4,838.7 1044.6,845 1042.1,845"/><polygon class="m" fill="#9b29b5" stroke="#9b29b5" points="1052,832.4 1053.5,832.4 1057.3,838.7 1053.5,845 1052,845"/><polygon class="b" fill="#d97a26" stroke="#d97a26" points="1080.1,833.3 1065.1,833.3 1061.8,838.7 1065.1,844.1 1080.1,844.1"/><polygon fill="#9b29b5" stroke="#9b29b5" points="1088.3,831.7 1087.5,831.7 1084.2,838.7 1087.5,845.6 1088.3,845.6"/><polygon class="b" fill="#14aa8d" stroke="#14aa8d" points="1103.2,838.7 1105.6,833.3 1111.2,833.3 1113.6,838.7 1111.2,844.1 1105.6,844.1"/><polygon fill="#14aa8d" stroke="#14aa8d" points="1121.8,831.7 1120.5,831.7 1116.2,838.7 1120.5,845.6 1121.8,845.6"/><polygon fill="#14aa8d" stroke="#14aa8d" points="1163.3,831.7 1162.3,831.7 1158.2,838.7 1162.3,845.6 1163.3,845.6"/><polygon class="m" fill="#14aa8d" stroke="#14aa8d" points="1171.7,832.4 1168.9,832.4 1165.1,838.7 1168.9,845 1171.7,845"/>
<rect x="904.6" y="831" width="292.1" height="15.4" fill="none" stroke="#1c1c1c" stroke-width="1.4"/>
<text class="chr" x="118.8" y="847.8" text-anchor="end">Chr08</text>
<path class="d" d="M130.3 866.00H1960M130.3 881.50H1960"/>
<path d="M130.3 866.1V881.5M1960 866.1V881.5" stroke="#8a8c8e" stroke-width="1" fill="none"/>
<polygon fill="#bfc2c8" stroke="#bfc2c8" points="130.8,867.7 131.2,867.7 133.1,873.8 131.2,880 130.8,880"/><polygon fill="#a9adb3" stroke="#a9adb3" points="134.3,867.7 134.8,867.7 136.7,873.8 134.8,880 134.3,880"/><polygon class="b" fill="#171717" stroke="#171717" points="140,868.4 173.3,868.4 176.6,873.8 173.3,879.2 140,879.2"/>
<polygon fill="#bfc2c8" stroke="#bfc2c8" points="1789.8,867.7 1789.3,867.7 1787.5,873.8 1789.3,880 1789.8,880"/><polygon class="b" fill="#171717" stroke="#171717" points="1829.6,868.4 1796.4,868.4 1793.1,873.8 1796.4,879.2 1829.6,879.2"/><polygon fill="#bfc2c8" stroke="#bfc2c8" points="1835.5,867.7 1835,867.7 1833,873.8 1835,880 1835.5,880"/><polygon fill="#a9adb3" stroke="#a9adb3" points="1839.2,867.7 1838.7,867.7 1836.7,873.8 1838.7,880 1839.2,880"/><polygon class="b" fill="#171717" stroke="#171717" points="1878.9,868.4 1845.8,868.4 1842.5,873.8 1845.8,879.2 1878.9,879.2"/><polygon class="b" fill="#84888c" stroke="#84888c" points="1903.2,868.4 1894.1,868.4 1890.8,873.8 1894.1,879.2 1903.2,879.2"/><line x1="1907" x2="1907" y1="867.6" y2="881.5" stroke="#c2c4c8" stroke-width="1"/><polygon class="b" fill="#84888c" stroke="#84888c" points="1928.2,868.4 1920.7,868.4 1917.4,873.8 1920.7,879.2 1928.2,879.2"/><line x1="1945.8" x2="1945.8" y1="867.6" y2="881.5" stroke="#c2c4c8" stroke-width="1"/><polygon fill="#abafb3" stroke="#abafb3" points="1959.5,866.9 1957.4,866.9 1953.2,873.8 1957.4,880.8 1959.5,880.8"/>
<rect x="741.2" y="865.3" width="618.5" height="17" fill="#fff" stroke="none"/>
<polygon fill="#1689c0" stroke="#1689c0" points="749.2,866.9 748.5,866.9 745.2,873.8 748.5,880.8 749.2,880.8"/><polygon fill="#9b29b5" stroke="#9b29b5" points="807,866.9 807.9,866.9 811.4,873.8 807.9,880.8 807,880.8"/><polygon fill="#1689c0" stroke="#1689c0" points="833.5,866.9 834.2,866.9 837,873.8 834.2,880.8 833.5,880.8"/><polygon fill="#f3da5f" stroke="#f3da5f" points="838,866.9 838.8,866.9 841.9,873.8 838.8,880.8 838,880.8"/><polygon class="b" fill="#d97a26" stroke="#d97a26" points="933,868.4 974.1,868.4 977.4,873.8 974.1,879.2 933,879.2"/><polygon class="m" fill="#f3da5f" stroke="#f3da5f" points="993.4,867.5 990.2,867.5 986.4,873.8 990.2,880.1 993.4,880.1"/><polygon fill="#f3da5f" stroke="#f3da5f" points="1007.3,866.9 1006.3,866.9 1002.2,873.8 1006.3,880.8 1007.3,880.8"/><polygon class="b" fill="#d97a26" stroke="#d97a26" points="1015.7,868.4 1039.9,868.4 1043.2,873.8 1039.9,879.2 1015.7,879.2"/><polygon fill="#f3da5f" stroke="#f3da5f" points="1054.2,866.9 1052.1,866.9 1047.9,873.8 1052.1,880.8 1054.2,880.8"/><polygon class="m" fill="#9b29b5" stroke="#9b29b5" points="1056.6,867.5 1059.4,867.5 1063.2,873.8 1059.4,880.1 1056.6,880.1"/><polygon class="b" fill="#9b29b5" stroke="#9b29b5" points="1070.7,868.4 1118.8,868.4 1122.1,873.8 1118.8,879.2 1070.7,879.2"/><polygon class="b" fill="#f3da5f" stroke="#f3da5f" points="1150.5,868.4 1131.2,868.4 1127.9,873.8 1131.2,879.2 1150.5,879.2"/><polygon class="m" fill="#f3da5f" stroke="#f3da5f" points="1170.3,867.5 1168.3,867.5 1164.5,873.8 1168.3,880.1 1170.3,880.1"/><polygon fill="#d99bc0" stroke="#d99bc0" points="1197,866.9 1196.4,866.9 1193.8,873.8 1196.4,880.8 1197,880.8"/><polygon fill="#9b29b5" stroke="#9b29b5" points="1198,866.9 1198.6,866.9 1201.1,873.8 1198.6,880.8 1198,880.8"/><polygon fill="#1689c0" stroke="#1689c0" points="1207.5,866.9 1206.6,866.9 1203,873.8 1206.6,880.8 1207.5,880.8"/><polygon class="b" fill="#1689c0" stroke="#1689c0" points="1275.4,868.4 1231.2,868.4 1227.9,873.8 1231.2,879.2 1275.4,879.2"/><polygon fill="#f3da5f" stroke="#f3da5f" points="1282.6,866.9 1281.9,866.9 1279,873.8 1281.9,880.8 1282.6,880.8"/><polygon fill="#d99bc0" stroke="#d99bc0" points="1293.5,866.9 1291.2,866.9 1287,873.8 1291.2,880.8 1293.5,880.8"/><polygon fill="#1689c0" stroke="#1689c0" points="1294.5,866.9 1294.8,866.9 1296.2,873.8 1294.8,880.8 1294.5,880.8"/><polygon fill="#f3da5f" stroke="#f3da5f" points="1316,866.9 1315.1,866.9 1311.5,873.8 1315.1,880.8 1316,880.8"/><polygon fill="#f3da5f" stroke="#f3da5f" points="1333.3,866.9 1331.2,866.9 1327,873.8 1331.2,880.8 1333.3,880.8"/>
<rect x="741.2" y="866.1" width="618.5" height="15.4" fill="none" stroke="#1c1c1c" stroke-width="1.4"/>
<text class="chr" x="118.8" y="882.9" text-anchor="end">Chr09</text>
<path class="d" d="M130.3 901.25H1960M130.3 916.75H1960"/>
<path d="M130.3 901.3V916.7M1960 901.3V916.7" stroke="#8a8c8e" stroke-width="1" fill="none"/>
<polygon class="m" fill="#abafb3" stroke="#abafb3" points="133.1,902.7 137.6,902.7 141.4,909 137.6,915.3 133.1,915.3"/><polygon class="m" fill="#abafb3" stroke="#abafb3" points="145,902.7 150,902.7 153.8,909 150,915.3 145,915.3"/><polygon class="m" fill="#abafb3" stroke="#abafb3" points="157.8,902.7 163.2,902.7 167,909 163.2,915.3 157.8,915.3"/><polygon fill="#1689c0" stroke="#1689c0" points="208.2,902 209.2,902 213.2,909 209.2,915.9 208.2,915.9"/><polygon fill="#1689c0" stroke="#1689c0" points="306.9,902 305.8,902 301.6,909 305.8,915.9 306.9,915.9"/>
<polygon fill="#bfc2c8" stroke="#bfc2c8" points="1781.6,902.8 1780.3,902.8 1777.5,909 1780.3,915.1 1781.6,915.1"/><polygon fill="#a9adb3" stroke="#a9adb3" points="1787.1,902.8 1785.8,902.8 1783,909 1785.8,915.1 1787.1,915.1"/><polygon class="b" fill="#1f2222" stroke="#1f2222" points="1822.3,903.6 1793.9,903.6 1790.6,909 1793.9,914.4 1822.3,914.4"/><polygon fill="#bfc2c8" stroke="#bfc2c8" points="1828.7,902.8 1828.2,902.8 1826,909 1828.2,915.1 1828.7,915.1"/><polygon fill="#a9adb3" stroke="#a9adb3" points="1832.7,902.8 1832.2,902.8 1830,909 1832.2,915.1 1832.7,915.1"/><polygon fill="#bfc2c8" stroke="#bfc2c8" points="1836.7,902.8 1836.2,902.8 1834,909 1836.2,915.1 1836.7,915.1"/><polygon class="b" fill="#171717" stroke="#171717" points="1876.5,903.6 1843.4,903.6 1840.1,909 1843.4,914.4 1876.5,914.4"/><polygon class="m" fill="#abafb3" stroke="#abafb3" points="1897.2,902.7 1894.7,902.7 1890.9,909 1894.7,915.3 1897.2,915.3"/><polygon class="b" fill="#171717" stroke="#171717" points="1937.7,903.6 1904,903.6 1900.7,909 1904,914.4 1937.7,914.4"/><polygon fill="#bfc2c8" stroke="#bfc2c8" points="1944.6,902.8 1943.9,902.8 1941.5,909 1943.9,915.1 1944.6,915.1"/><polygon fill="#a9adb3" stroke="#a9adb3" points="1948.9,902.8 1948.3,902.8 1945.8,909 1948.3,915.1 1948.9,915.1"/><polygon class="m" fill="#999da1" stroke="#999da1" points="1958.3,902.7 1954.8,902.7 1951,909 1954.8,915.3 1958.3,915.3"/>
<rect x="883.3" y="900.5" width="334.1" height="17" fill="#fff" stroke="none"/>
<polygon class="m" fill="#9b29b5" stroke="#9b29b5" points="885.2,902.7 886.7,902.7 890.5,909 886.7,915.3 885.2,915.3"/><polygon class="b" fill="#9b29b5" stroke="#9b29b5" points="894.4,903.6 902,903.6 905.3,909 902,914.4 894.4,914.4"/><polygon fill="#f3da5f" stroke="#f3da5f" points="908,902 908.6,902 911,909 908.6,915.9 908,915.9"/><polygon class="m" fill="#9b29b5" stroke="#9b29b5" points="913.8,902.7 920.2,902.7 924,909 920.2,915.3 913.8,915.3"/><polygon class="b" fill="#9b29b5" stroke="#9b29b5" points="958.2,903.6 932.8,903.6 929.5,909 932.8,914.4 958.2,914.4"/><polygon class="b" fill="#d97a26" stroke="#d97a26" points="1008.9,903.6 967.3,903.6 964,909 967.3,914.4 1008.9,914.4"/><polygon class="b" fill="#9b29b5" stroke="#9b29b5" points="1035.3,903.6 1022.5,903.6 1019.2,909 1022.5,914.4 1035.3,914.4"/><polygon class="m" fill="#9b29b5" stroke="#9b29b5" points="1049.4,902.7 1046.5,902.7 1042.7,909 1046.5,915.3 1049.4,915.3"/><polygon class="b" fill="#f3da5f" stroke="#f3da5f" points="1054.9,903.6 1089.2,903.6 1092.5,909 1089.2,914.4 1054.9,914.4"/><polygon class="m" fill="#9b29b5" stroke="#9b29b5" points="1104.7,902.7 1103.1,902.7 1099.3,909 1103.1,915.3 1104.7,915.3"/><polygon class="b" fill="#d97a26" stroke="#d97a26" points="1117,909 1119.4,903.6 1124.6,903.6 1127,909 1124.6,914.4 1119.4,914.4"/><polygon class="b" fill="#9b29b5" stroke="#9b29b5" points="1132.8,903.6 1140.5,903.6 1143.8,909 1140.5,914.4 1132.8,914.4"/><polygon fill="#f3da5f" stroke="#f3da5f" points="1164.6,902 1163.6,902 1159.7,909 1163.6,915.9 1164.6,915.9"/>
<rect x="883.3" y="901.3" width="334.1" height="15.4" fill="none" stroke="#1c1c1c" stroke-width="1.4"/>
<text class="chr" x="118.8" y="918.1" text-anchor="end">Chr10</text>
<path class="d" d="M130.3 936.50H1960M130.3 951.50H1960"/>
<path d="M130.3 936.4V951.8M1960 936.4V951.8" stroke="#8a8c8e" stroke-width="1" fill="none"/>
<polygon class="b" fill="#505456" stroke="#505456" points="132.1,938.7 152.4,938.7 155.7,944.1 152.4,949.5 132.1,949.5"/><polygon class="b" fill="#6c7074" stroke="#6c7074" points="161.3,938.7 176.6,938.7 179.9,944.1 176.6,949.5 161.3,949.5"/><polygon class="b" fill="#3c4042" stroke="#3c4042" points="221.4,938.7 247.1,938.7 250.4,944.1 247.1,949.5 221.4,949.5"/><polygon class="b" fill="#3c4042" stroke="#3c4042" points="275.7,938.7 301.5,938.7 304.8,944.1 301.5,949.5 275.7,949.5"/><polygon fill="#bfc2c8" stroke="#bfc2c8" points="307.9,938 308.4,938 310.1,944.1 308.4,950.2 307.9,950.2"/><polygon class="b" fill="#171717" stroke="#171717" points="313.2,938.7 346.7,938.7 350,944.1 346.7,949.5 313.2,949.5"/><polygon class="b" fill="#84888c" stroke="#84888c" points="484.6,938.7 475,938.7 471.7,944.1 475,949.5 484.6,949.5"/>
<polygon fill="#bfc2c8" stroke="#bfc2c8" points="1934.1,938 1933.3,938 1930.5,944.1 1933.3,950.2 1934.1,950.2"/><polygon class="b" fill="#6c7074" stroke="#6c7074" points="1949.9,938.7 1941.4,938.7 1938.1,944.1 1941.4,949.5 1949.9,949.5"/><polygon fill="#abafb3" stroke="#abafb3" points="1959.5,937.1 1958,937.1 1953.8,944.1 1958,951.1 1959.5,951.1"/>
<rect x="800.4" y="935.6" width="500.3" height="17" fill="#fff" stroke="none"/>
<polygon fill="#1689c0" stroke="#1689c0" points="823.8,937.1 824.5,937.1 827.8,944.1 824.5,951.1 823.8,951.1"/><polygon fill="#f3da5f" stroke="#f3da5f" points="848.5,937.1 849.1,937.1 851.8,944.1 849.1,951.1 848.5,951.1"/><polygon class="b" fill="#d99bc0" stroke="#d99bc0" points="854.5,938.7 860,938.7 863.3,944.1 860,949.5 854.5,949.5"/><polygon class="m" fill="#9b29b5" stroke="#9b29b5" points="884.5,937.8 879.1,937.8 875.3,944.1 879.1,950.4 884.5,950.4"/><polygon fill="#1689c0" stroke="#1689c0" points="898.8,937.1 897.8,937.1 893.8,944.1 897.8,951.1 898.8,951.1"/><polygon class="b" fill="#d97a26" stroke="#d97a26" points="901.5,938.7 929.7,938.7 933,944.1 929.7,949.5 901.5,949.5"/><polygon fill="#9b29b5" stroke="#9b29b5" points="935.7,937.1 936.5,937.1 939.6,944.1 936.5,951.1 935.7,951.1"/><polygon class="b" fill="#9b29b5" stroke="#9b29b5" points="949.2,938.7 961.2,938.7 964.5,944.1 961.2,949.5 949.2,949.5"/><polygon class="b" fill="#f3da5f" stroke="#f3da5f" points="973.3,938.7 1023,938.7 1026.3,944.1 1023,949.5 973.3,949.5"/><polygon fill="#9b29b5" stroke="#9b29b5" points="1035.5,937.1 1034.2,937.1 1030,944.1 1034.2,951.1 1035.5,951.1"/><polygon fill="#9b29b5" stroke="#9b29b5" points="1050.2,937.1 1049.5,937.1 1046.2,944.1 1049.5,951.1 1050.2,951.1"/><polygon fill="#9b29b5" stroke="#9b29b5" points="1060,937.1 1061,937.1 1065,944.1 1061,951.1 1060,951.1"/><polygon class="b" fill="#f3da5f" stroke="#f3da5f" points="1069.3,938.7 1085.3,938.7 1088.6,944.1 1085.3,949.5 1069.3,949.5"/><polygon class="b" fill="#f3da5f" stroke="#f3da5f" points="1117,938.7 1098.2,938.7 1094.9,944.1 1098.2,949.5 1117,949.5"/><polygon class="b" fill="#9b29b5" stroke="#9b29b5" points="1145.2,938.7 1124.7,938.7 1121.4,944.1 1124.7,949.5 1145.2,949.5"/><polygon fill="#1689c0" stroke="#1689c0" points="1147.9,937.1 1148.5,937.1 1150.8,944.1 1148.5,951.1 1147.9,951.1"/><polygon fill="#9b29b5" stroke="#9b29b5" points="1158.8,937.1 1156.6,937.1 1152.4,944.1 1156.6,951.1 1158.8,951.1"/><polygon fill="#9b29b5" stroke="#9b29b5" points="1167,937.1 1166.4,937.1 1163.7,944.1 1166.4,951.1 1167,951.1"/><polygon fill="#f3da5f" stroke="#f3da5f" points="1176.5,937.1 1175.6,937.1 1172,944.1 1175.6,951.1 1176.5,951.1"/><polygon fill="#f3da5f" stroke="#f3da5f" points="1207,937.1 1207.8,937.1 1210.6,944.1 1207.8,951.1 1207,951.1"/><polygon fill="#1689c0" stroke="#1689c0" points="1221.5,937.1 1222.6,937.1 1226.8,944.1 1222.6,951.1 1221.5,951.1"/><polygon class="b" fill="#1689c0" stroke="#1689c0" points="1262.6,938.7 1232.8,938.7 1229.5,944.1 1232.8,949.5 1262.6,949.5"/><polygon fill="#d97a26" stroke="#d97a26" points="1288.5,937.1 1289.4,937.1 1293.3,944.1 1289.4,951.1 1288.5,951.1"/>
<rect x="800.4" y="936.4" width="500.3" height="15.4" fill="none" stroke="#1c1c1c" stroke-width="1.4"/>
<text class="chr" x="118.8" y="953.2" text-anchor="end">Chr11</text>
<path class="d" d="M130.3 971.75H1960M130.3 986.75H1960"/>
<path d="M130.3 971.5V986.9M1960 971.5V986.9" stroke="#8a8c8e" stroke-width="1" fill="none"/>
<polygon fill="#bfc2c8" stroke="#bfc2c8" points="130.8,973.1 131.3,973.1 133.5,979.2 131.3,985.4 130.8,985.4"/><polygon fill="#a9adb3" stroke="#a9adb3" points="134.7,973.1 135.2,973.1 137.4,979.2 135.2,985.4 134.7,985.4"/><polygon fill="#bfc2c8" stroke="#bfc2c8" points="138.6,973.1 139.2,973.1 141.3,979.2 139.2,985.4 138.6,985.4"/>
<polygon class="b" fill="#505456" stroke="#505456" points="1834.1,973.8 1812.8,973.8 1809.5,979.2 1812.8,984.6 1834.1,984.6"/><polygon class="b" fill="#171717" stroke="#171717" points="1875.5,973.8 1842.4,973.8 1839.1,979.2 1842.4,984.6 1875.5,984.6"/><polygon class="m" fill="#abafb3" stroke="#abafb3" points="1887.3,972.9 1883.8,972.9 1880,979.2 1883.8,985.5 1887.3,985.5"/><polygon fill="#bfc2c8" stroke="#bfc2c8" points="1893.2,973.1 1892.5,973.1 1890,979.2 1892.5,985.4 1893.2,985.4"/><polygon class="b" fill="#171717" stroke="#171717" points="1933.7,973.8 1900.4,973.8 1897.1,979.2 1900.4,984.6 1933.7,984.6"/><polygon fill="#999da1" stroke="#999da1" points="1942.5,972.3 1941.5,972.3 1937.4,979.2 1941.5,986.2 1942.5,986.2"/><polygon fill="#bfc2c8" stroke="#bfc2c8" points="1950.2,973.1 1949.5,973.1 1947,979.2 1949.5,985.4 1950.2,985.4"/><polygon fill="#a9adb3" stroke="#a9adb3" points="1954.7,973.1 1954,973.1 1951.5,979.2 1954,985.4 1954.7,985.4"/><polygon fill="#bfc2c8" stroke="#bfc2c8" points="1959.2,973.1 1958.5,973.1 1956,979.2 1958.5,985.4 1959.2,985.4"/>
<rect x="900.3" y="970.7" width="300.9" height="17" fill="#fff" stroke="none"/>
<polygon fill="#1689c0" stroke="#1689c0" points="917.5,972.3 918.1,972.3 920.9,979.2 918.1,986.2 917.5,986.2"/><polygon fill="#f3da5f" stroke="#f3da5f" points="923.4,972.3 924,972.3 926.4,979.2 924,986.2 923.4,986.2"/><polygon fill="#9b29b5" stroke="#9b29b5" points="943.5,972.3 941.3,972.3 937.1,979.2 941.3,986.2 943.5,986.2"/><polygon class="b" fill="#d97a26" stroke="#d97a26" points="952.2,973.8 982.9,973.8 986.2,979.2 982.9,984.6 952.2,984.6"/><polygon class="b" fill="#f3da5f" stroke="#f3da5f" points="1010.3,973.8 993.9,973.8 990.6,979.2 993.9,984.6 1010.3,984.6"/><polygon class="b" fill="#f3da5f" stroke="#f3da5f" points="1031.6,973.8 1020.6,973.8 1017.3,979.2 1020.6,984.6 1031.6,984.6"/><polygon class="m" fill="#9b29b5" stroke="#9b29b5" points="1038.7,979.2 1040.7,972.9 1042.5,972.9 1044.5,979.2 1042.5,985.5 1040.7,985.5"/><polygon class="b" fill="#f3da5f" stroke="#f3da5f" points="1049,973.8 1082.1,973.8 1085.4,979.2 1082.1,984.6 1049,984.6"/><polygon class="m" fill="#f3da5f" stroke="#f3da5f" points="1092.1,972.9 1095.5,972.9 1099.3,979.2 1095.5,985.5 1092.1,985.5"/><polygon fill="#f3da5f" stroke="#f3da5f" points="1104.5,972.3 1106.8,972.3 1111,979.2 1106.8,986.2 1104.5,986.2"/><polygon class="b" fill="#d99bc0" stroke="#d99bc0" points="1125.8,973.8 1118.8,973.8 1115.5,979.2 1118.8,984.6 1125.8,984.6"/><polygon class="b" fill="#14aa8d" stroke="#14aa8d" points="1151,979.2 1153.4,973.8 1170.4,973.8 1172.8,979.2 1170.4,984.6 1153.4,984.6"/><polygon class="m" fill="#14aa8d" stroke="#14aa8d" points="1184.2,972.9 1180.7,972.9 1176.9,979.2 1180.7,985.5 1184.2,985.5"/><polygon class="m" fill="#1689c0" stroke="#1689c0" points="1199.3,972.9 1197.9,972.9 1194.1,979.2 1197.9,985.5 1199.3,985.5"/>
<rect x="900.3" y="971.5" width="300.9" height="15.4" fill="none" stroke="#1c1c1c" stroke-width="1.4"/>
<text class="chr" x="118.8" y="988.3" text-anchor="end">Chr12</text>
<path class="d" d="M130.3 1006.50H1960M130.3 1022.00H1960"/>
<path d="M130.3 1006.7V1022.1M1960 1006.7V1022.1" stroke="#8a8c8e" stroke-width="1" fill="none"/>
<polygon class="b" fill="#84888c" stroke="#84888c" points="133,1009 140.5,1009 143.8,1014.4 140.5,1019.8 133,1019.8"/><polygon fill="#bfc2c8" stroke="#bfc2c8" points="146.4,1008.2 147.7,1008.2 150.6,1014.4 147.7,1020.5 146.4,1020.5"/><polygon class="m" fill="#abafb3" stroke="#abafb3" points="152.9,1008.1 155.9,1008.1 159.7,1014.4 155.9,1020.7 152.9,1020.7"/><line x1="285.7" x2="285.7" y1="1008.2" y2="1022.1" stroke="#c2c4c8" stroke-width="1"/>
<polygon fill="#1689c0" stroke="#1689c0" points="1616.7,1007.4 1617.7,1007.4 1621.6,1014.4 1617.7,1021.3 1616.7,1021.3"/><polygon fill="#abafb3" stroke="#abafb3" points="1634.5,1007.4 1633.5,1007.4 1629.5,1014.4 1633.5,1021.3 1634.5,1021.3"/><polygon fill="#abafb3" stroke="#abafb3" points="1640.5,1007.4 1639.5,1007.4 1635.5,1014.4 1639.5,1021.3 1640.5,1021.3"/><polygon fill="#abafb3" stroke="#abafb3" points="1647.5,1007.4 1646.5,1007.4 1642.5,1014.4 1646.5,1021.3 1647.5,1021.3"/><polygon fill="#abafb3" stroke="#abafb3" points="1654.5,1007.4 1653.5,1007.4 1649.5,1014.4 1653.5,1021.3 1654.5,1021.3"/><polygon fill="#abafb3" stroke="#abafb3" points="1661.2,1007.4 1659.7,1007.4 1655.5,1014.4 1659.7,1021.3 1661.2,1021.3"/><polygon class="m" fill="#abafb3" stroke="#abafb3" points="1673.2,1008.1 1668.8,1008.1 1665,1014.4 1668.8,1020.7 1673.2,1020.7"/><polygon fill="#bfc2c8" stroke="#bfc2c8" points="1680.3,1008.2 1678.8,1008.2 1676,1014.4 1678.8,1020.5 1680.3,1020.5"/><polygon fill="#a9adb3" stroke="#a9adb3" points="1686.1,1008.2 1684.6,1008.2 1681.7,1014.4 1684.6,1020.5 1686.1,1020.5"/><polygon class="b" fill="#171717" stroke="#171717" points="1732.5,1009 1699.8,1009 1696.5,1014.4 1699.8,1019.8 1732.5,1019.8"/><polygon fill="#bfc2c8" stroke="#bfc2c8" points="1738.7,1008.2 1738.2,1008.2 1736.2,1014.4 1738.2,1020.5 1738.7,1020.5"/><polygon class="b" fill="#6c7074" stroke="#6c7074" points="1759.2,1009 1745.2,1009 1741.9,1014.4 1745.2,1019.8 1759.2,1019.8"/><polygon class="m" fill="#abafb3" stroke="#abafb3" points="1771.9,1008.1 1768.4,1008.1 1764.6,1014.4 1768.4,1020.7 1771.9,1020.7"/><line x1="1782" x2="1782" y1="1008.2" y2="1022.1" stroke="#c2c4c8" stroke-width="1"/><polygon class="m" fill="#999da1" stroke="#999da1" points="1797.5,1008.1 1793.1,1008.1 1789.3,1014.4 1793.1,1020.7 1797.5,1020.7"/><line x1="1806.7" x2="1806.7" y1="1008.2" y2="1022.1" stroke="#c2c4c8" stroke-width="1"/><line x1="1812.6" x2="1812.6" y1="1008.2" y2="1022.1" stroke="#c2c4c8" stroke-width="1"/><polygon class="b" fill="#171717" stroke="#171717" points="1852.5,1009 1819.5,1009 1816.2,1014.4 1819.5,1019.8 1852.5,1019.8"/><polygon fill="#bfc2c8" stroke="#bfc2c8" points="1859.2,1008.2 1858.5,1008.2 1856,1014.4 1858.5,1020.5 1859.2,1020.5"/><polygon class="b" fill="#171717" stroke="#171717" points="1898.6,1009 1865.5,1009 1862.2,1014.4 1865.5,1019.8 1898.6,1019.8"/><polygon fill="#bfc2c8" stroke="#bfc2c8" points="1904.5,1008.2 1904,1008.2 1902,1014.4 1904,1020.5 1904.5,1020.5"/><polygon class="b" fill="#6c7074" stroke="#6c7074" points="1924.9,1009 1910.9,1009 1907.6,1014.4 1910.9,1019.8 1924.9,1019.8"/><polygon class="m" fill="#abafb3" stroke="#abafb3" points="1937.6,1008.1 1933.1,1008.1 1929.3,1014.4 1933.1,1020.7 1937.6,1020.7"/><line x1="1947.5" x2="1947.5" y1="1008.2" y2="1022.1" stroke="#c2c4c8" stroke-width="1"/><polygon fill="#bfc2c8" stroke="#bfc2c8" points="1955.6,1008.2 1955.1,1008.2 1953.2,1014.4 1955.1,1020.5 1955.6,1020.5"/><polygon fill="#a9adb3" stroke="#a9adb3" points="1959.3,1008.2 1958.8,1008.2 1956.8,1014.4 1958.8,1020.5 1959.3,1020.5"/>
<rect x="811.5" y="1005.9" width="477.9" height="17" fill="#fff" stroke="none"/>
<polygon fill="#1689c0" stroke="#1689c0" points="826.2,1007.4 826.9,1007.4 829.8,1014.4 826.9,1021.3 826.2,1021.3"/><polygon fill="#1689c0" stroke="#1689c0" points="842.9,1007.4 843.6,1007.4 846.5,1014.4 843.6,1021.3 842.9,1021.3"/><polygon fill="#f3da5f" stroke="#f3da5f" points="874.5,1007.4 875.3,1007.4 878.8,1014.4 875.3,1021.3 874.5,1021.3"/><polygon fill="#f3da5f" stroke="#f3da5f" points="916.9,1007.4 916.1,1007.4 913,1014.4 916.1,1021.3 916.9,1021.3"/><polygon class="m" fill="#d99bc0" stroke="#d99bc0" points="924,1008.1 922.5,1008.1 918.7,1014.4 922.5,1020.7 924,1020.7"/><polygon class="b" fill="#f3da5f" stroke="#f3da5f" points="933,1014.4 935.4,1009 944.4,1009 946.8,1014.4 944.4,1019.8 935.4,1019.8"/><polygon fill="#9b29b5" stroke="#9b29b5" points="949.5,1007.4 950.2,1007.4 953.4,1014.4 950.2,1021.3 949.5,1021.3"/><polygon fill="#9b29b5" stroke="#9b29b5" points="960.9,1007.4 963,1007.4 967.2,1014.4 963,1021.3 960.9,1021.3"/><polygon class="b" fill="#9b29b5" stroke="#9b29b5" points="1068.1,1009 1106,1009 1109.3,1014.4 1106,1019.8 1068.1,1019.8"/><polygon class="b" fill="#f3da5f" stroke="#f3da5f" points="1116,1009 1128.7,1009 1132,1014.4 1128.7,1019.8 1116,1019.8"/><polygon class="b" fill="#14aa8d" stroke="#14aa8d" points="1141.7,1009 1174.4,1009 1177.7,1014.4 1174.4,1019.8 1141.7,1019.8"/><polygon class="b" fill="#f3da5f" stroke="#f3da5f" points="1184.1,1009 1202.1,1009 1205.4,1014.4 1202.1,1019.8 1184.1,1019.8"/><polygon fill="#9b29b5" stroke="#9b29b5" points="1238,1007.4 1239,1007.4 1243,1014.4 1239,1021.3 1238,1021.3"/><polygon fill="#1689c0" stroke="#1689c0" points="1275.5,1007.4 1276.2,1007.4 1279.1,1014.4 1276.2,1021.3 1275.5,1021.3"/>
<rect x="811.5" y="1006.7" width="477.9" height="15.4" fill="none" stroke="#1c1c1c" stroke-width="1.4"/>
<text class="chr" x="118.8" y="1023.5" text-anchor="end">Chr13</text>
<path class="d" d="M130.3 1041.75H1960M130.3 1057.25H1960"/>
<path d="M130.3 1041.8V1057.2M1960 1041.8V1057.2" stroke="#8a8c8e" stroke-width="1" fill="none"/>
<polygon class="b" fill="#171717" stroke="#171717" points="132.1,1044.1 165.8,1044.1 169.1,1049.5 165.8,1054.9 132.1,1054.9"/><polygon fill="#bfc2c8" stroke="#bfc2c8" points="171.8,1043.4 172.4,1043.4 175.1,1049.5 172.4,1055.7 171.8,1055.7"/><polygon fill="#a9adb3" stroke="#a9adb3" points="176.3,1043.4 177,1043.4 179.7,1049.5 177,1055.7 176.3,1055.7"/><polygon fill="#bfc2c8" stroke="#bfc2c8" points="180.9,1043.4 181.6,1043.4 184.3,1049.5 181.6,1055.7 180.9,1055.7"/><polygon class="b" fill="#171717" stroke="#171717" points="187.3,1044.1 221,1044.1 224.3,1049.5 221,1054.9 187.3,1054.9"/><polygon fill="#bfc2c8" stroke="#bfc2c8" points="226.9,1043.4 227.6,1043.4 230.1,1049.5 227.6,1055.7 226.9,1055.7"/><polygon fill="#a9adb3" stroke="#a9adb3" points="231.4,1043.4 232,1043.4 234.6,1049.5 232,1055.7 231.4,1055.7"/><polygon class="b" fill="#171717" stroke="#171717" points="238,1044.1 271.3,1044.1 274.6,1049.5 271.3,1054.9 238,1054.9"/><polygon fill="#bfc2c8" stroke="#bfc2c8" points="277.2,1043.4 277.8,1043.4 280,1049.5 277.8,1055.7 277.2,1055.7"/><polygon fill="#a9adb3" stroke="#a9adb3" points="281.2,1043.4 281.7,1043.4 283.9,1049.5 281.7,1055.7 281.2,1055.7"/><polygon class="b" fill="#171717" stroke="#171717" points="287.5,1044.1 320.7,1044.1 324,1049.5 320.7,1054.9 287.5,1054.9"/>

<rect x="861.8" y="1041" width="377.7" height="17" fill="#fff" stroke="none"/>
<polygon class="m" fill="#14aa8d" stroke="#14aa8d" points="883.6,1043.2 879.7,1043.2 875.9,1049.5 879.7,1055.8 883.6,1055.8"/><polygon class="b" fill="#1689c0" stroke="#1689c0" points="891.6,1044.1 935.2,1044.1 938.5,1049.5 935.2,1054.9 891.6,1054.9"/><polygon fill="#f3da5f" stroke="#f3da5f" points="948.5,1042.6 949.2,1042.6 952.4,1049.5 949.2,1056.5 948.5,1056.5"/><polygon class="b" fill="#d99bc0" stroke="#d99bc0" points="963.4,1044.1 988.8,1044.1 992.1,1049.5 988.8,1054.9 963.4,1054.9"/><polygon fill="#9b29b5" stroke="#9b29b5" points="995.8,1042.6 997.1,1042.6 1001.3,1049.5 997.1,1056.5 995.8,1056.5"/><polygon fill="#9b29b5" stroke="#9b29b5" points="1013,1042.6 1013.7,1042.6 1016.5,1049.5 1013.7,1056.5 1013,1056.5"/><polygon fill="#9b29b5" stroke="#9b29b5" points="1017.5,1042.6 1018.2,1042.6 1021.1,1049.5 1018.2,1056.5 1017.5,1056.5"/><polygon class="b" fill="#14aa8d" stroke="#14aa8d" points="1032.1,1049.5 1034.5,1044.1 1065.4,1044.1 1067.8,1049.5 1065.4,1054.9 1034.5,1054.9"/><polygon class="b" fill="#f3da5f" stroke="#f3da5f" points="1138.7,1044.1 1089.2,1044.1 1085.9,1049.5 1089.2,1054.9 1138.7,1054.9"/><polygon class="m" fill="#f3da5f" stroke="#f3da5f" points="1145.3,1049.5 1147.6,1043.2 1149.7,1043.2 1152,1049.5 1149.7,1055.8 1147.6,1055.8"/><polygon fill="#1689c0" stroke="#1689c0" points="1192.7,1042.6 1193.5,1042.6 1196.8,1049.5 1193.5,1056.5 1192.7,1056.5"/><polygon fill="#f3da5f" stroke="#f3da5f" points="1209.5,1042.6 1208.5,1042.6 1204.5,1049.5 1208.5,1056.5 1209.5,1056.5"/>
<rect x="861.8" y="1041.8" width="377.7" height="15.4" fill="none" stroke="#1c1c1c" stroke-width="1.4"/>
<text class="chr" x="118.8" y="1058.6" text-anchor="end">Chr14</text>
<text class="pl" x="-0.5" y="35.5" font-size="50.5">A</text>
<text class="pl" x="0.5" y="572.2" font-size="48.5">B</text>
<text class="t" x="1046.4" y="37.5" font-size="50.5" text-anchor="middle">Bt89</text>
<text class="t" x="1057.9" y="573.7" font-size="50.3" text-anchor="middle">Bt133</text>
<text class="t" x="420.2" y="34.8" font-size="33.5" text-anchor="middle">50 kb</text>
<text class="t" x="1662" y="34.8" font-size="33.5" text-anchor="middle">50 kb</text>
<text class="t" x="428" y="571.8" font-size="33.5" text-anchor="middle">50 kb</text>
<text class="t" x="1670.4" y="571.8" font-size="33.5" text-anchor="middle">50 kb</text>
<line x1="138" x2="692.5" y1="38.9" y2="38.9" stroke="#111" stroke-width="2.2"/>
<polygon fill="#111" points="130,38.9 146,32.5 142.6,38.9 146,45.2"/>
<polygon fill="#111" points="700.5,38.9 684.5,32.5 687.9,38.9 684.5,45.2"/>
<line x1="1373.5" x2="1953.5" y1="38.9" y2="38.9" stroke="#111" stroke-width="2.2"/>
<polygon fill="#111" points="1365.5,38.9 1381.5,32.5 1378.1,38.9 1381.5,45.2"/>
<polygon fill="#111" points="1961.5,38.9 1945.5,32.5 1948.9,38.9 1945.5,45.2"/>
<line x1="138" x2="717.5" y1="576.6" y2="576.6" stroke="#111" stroke-width="2.2"/>
<polygon fill="#111" points="130,576.6 146,570.2 142.6,576.6 146,583"/>
<polygon fill="#111" points="725.5,576.6 709.5,570.2 712.9,576.6 709.5,583"/>
<line x1="1377" x2="1953.8" y1="576.5" y2="576.5" stroke="#111" stroke-width="2.2"/>
<polygon fill="#111" points="1369,576.5 1385,570.1 1381.6,576.5 1385,582.9"/>
<polygon fill="#111" points="1961.8,576.5 1945.8,570.1 1949.2,576.5 1945.8,582.9"/>
<path d="M133.3 1070.5V1099.5M725.3 1070.5V1099.5M133.3 1085H262.7M596.5 1085H725.3" stroke="#111" stroke-width="3.9" fill="none"/>
<path d="M743.2 1069.7V1098.7M1358.2 1069.7V1098.7M743.2 1084.2H933.7M1177.3 1084.2H1358.2" stroke="#111" stroke-width="3.9" fill="none"/>
<path d="M1377.6 1069.1V1098.1M1958.3 1069.1V1098.1M1377.6 1083.6H1494.4M1841 1083.6H1958.3" stroke="#111" stroke-width="3.9" fill="none"/>
<text class="t" x="429.6" y="1097.6" font-size="42.3" text-anchor="middle">Left subtelomere</text>
<text class="t" x="1055.6" y="1096.6" font-size="42.3" text-anchor="middle">Centromere</text>
<text class="t" x="1668" y="1095.3" font-size="41.8" text-anchor="middle">Right subtelomere</text>
<rect x="1227.8" y="1096" width="94.6" height="8" fill="#111"/>
<text class="t" x="1274.8" y="1133.8" font-size="33.5" text-anchor="middle">10 kb</text>
<rect x="210.2" y="1158.2" width="1582.5" height="106.8" fill="#fff" stroke="#4a4a4a" stroke-width="2"/>
<rect x="322.3" y="1176.5" width="41.2" height="33.8" fill="#e9e9ef"/>
<rect x="363.2" y="1176.5" width="41.2" height="33.8" fill="#d2d4da"/>
<rect x="404" y="1176.5" width="41.2" height="33.8" fill="#babec6"/>
<rect x="444.9" y="1176.5" width="41.2" height="33.8" fill="#a5a9af"/>
<rect x="485.7" y="1176.5" width="41.2" height="33.8" fill="#909498"/>
<rect x="526.6" y="1176.5" width="41.2" height="33.8" fill="#7a7e82"/>
<rect x="567.5" y="1176.5" width="41.2" height="33.8" fill="#5f6365"/>
<rect x="608.3" y="1176.5" width="41.2" height="33.8" fill="#474b4d"/>
<rect x="649.2" y="1176.5" width="41.2" height="33.8" fill="#2b2d2d"/>
<rect x="690" y="1176.5" width="41.2" height="33.8" fill="#151717"/>
<text class="t" x="232" y="1203.8" font-size="41.5">10%</text>
<text class="t" x="738.5" y="1203.8" font-size="41.5">100%</text>
<text class="t" x="526.6" y="1249.1" font-size="41.5" text-anchor="middle">Cnl1 length percent</text>
<rect x="909.7" y="1197" width="29" height="28.8" fill="#1689c0"/>
<text class="t" x="950.2" y="1226.7" font-size="41.5">Tcn1</text>
<rect x="1058.2" y="1197" width="29" height="28.8" fill="#9b29b5"/>
<text class="t" x="1097.3" y="1226.7" font-size="41.5">Tcn2</text>
<rect x="1208.2" y="1197" width="29" height="28.8" fill="#f3da5f"/>
<text class="t" x="1242.5" y="1226.7" font-size="41.5">Tcn3</text>
<rect x="1355.3" y="1197" width="29" height="28.8" fill="#d97a26"/>
<text class="t" x="1390.5" y="1226.7" font-size="41.5">Tcn4</text>
<rect x="1502.9" y="1197" width="29" height="28.8" fill="#d99bc0"/>
<text class="t" x="1538.1" y="1226.7" font-size="41.5">Tcn5</text>
<rect x="1650.4" y="1197" width="29" height="28.8" fill="#14aa8d"/>
<text class="t" x="1685.7" y="1226.7" font-size="41.5">Tcn6</text>
</svg>
</body></html>
